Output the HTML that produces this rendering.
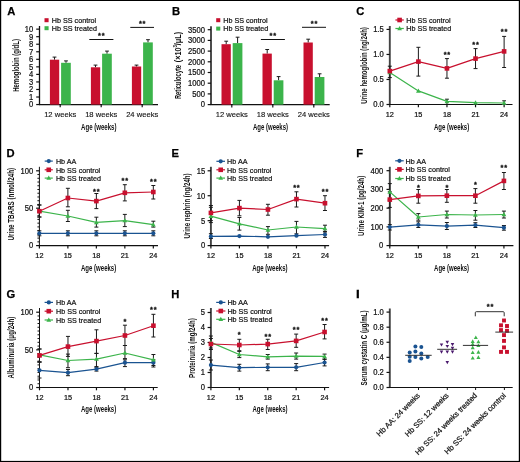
<!DOCTYPE html><html><head><meta charset="utf-8"><style>html,body{margin:0;padding:0;background:#fff;}body{width:520px;height:462px;overflow:hidden;font-family:"Liberation Sans",sans-serif;} svg{will-change:transform;}</style></head><body><svg width="520" height="462" viewBox="0 0 520 462" style="display:block" font-family="'Liberation Sans', sans-serif">
<rect x="0" y="0" width="520" height="462" fill="#fff"/>
<text x="7.20" y="15.20" font-size="11.2" font-weight="bold" fill="#000" stroke="#000" stroke-width="0.25">A</text>
<line x1="39.50" y1="26.00" x2="39.50" y2="105.05" stroke="#111" stroke-width="1.3"/>
<line x1="36.20" y1="104.55" x2="39.50" y2="104.55" stroke="#111" stroke-width="1.2"/>
<text transform="translate(33.30,107.42) scale(0.930,1)" x="0" y="0" font-size="8.2" text-anchor="end" fill="#111" stroke="#111" stroke-width="0.22">0</text>
<line x1="36.20" y1="97.01" x2="39.50" y2="97.01" stroke="#111" stroke-width="1.2"/>
<text transform="translate(33.30,99.88) scale(0.930,1)" x="0" y="0" font-size="8.2" text-anchor="end" fill="#111" stroke="#111" stroke-width="0.22">1</text>
<line x1="36.20" y1="89.47" x2="39.50" y2="89.47" stroke="#111" stroke-width="1.2"/>
<text transform="translate(33.30,92.34) scale(0.930,1)" x="0" y="0" font-size="8.2" text-anchor="end" fill="#111" stroke="#111" stroke-width="0.22">2</text>
<line x1="36.20" y1="81.93" x2="39.50" y2="81.93" stroke="#111" stroke-width="1.2"/>
<text transform="translate(33.30,84.80) scale(0.930,1)" x="0" y="0" font-size="8.2" text-anchor="end" fill="#111" stroke="#111" stroke-width="0.22">3</text>
<line x1="36.20" y1="74.39" x2="39.50" y2="74.39" stroke="#111" stroke-width="1.2"/>
<text transform="translate(33.30,77.26) scale(0.930,1)" x="0" y="0" font-size="8.2" text-anchor="end" fill="#111" stroke="#111" stroke-width="0.22">4</text>
<line x1="36.20" y1="66.85" x2="39.50" y2="66.85" stroke="#111" stroke-width="1.2"/>
<text transform="translate(33.30,69.72) scale(0.930,1)" x="0" y="0" font-size="8.2" text-anchor="end" fill="#111" stroke="#111" stroke-width="0.22">5</text>
<line x1="36.20" y1="59.31" x2="39.50" y2="59.31" stroke="#111" stroke-width="1.2"/>
<text transform="translate(33.30,62.18) scale(0.930,1)" x="0" y="0" font-size="8.2" text-anchor="end" fill="#111" stroke="#111" stroke-width="0.22">6</text>
<line x1="36.20" y1="51.77" x2="39.50" y2="51.77" stroke="#111" stroke-width="1.2"/>
<text transform="translate(33.30,54.64) scale(0.930,1)" x="0" y="0" font-size="8.2" text-anchor="end" fill="#111" stroke="#111" stroke-width="0.22">7</text>
<line x1="36.20" y1="44.23" x2="39.50" y2="44.23" stroke="#111" stroke-width="1.2"/>
<text transform="translate(33.30,47.10) scale(0.930,1)" x="0" y="0" font-size="8.2" text-anchor="end" fill="#111" stroke="#111" stroke-width="0.22">8</text>
<line x1="36.20" y1="36.69" x2="39.50" y2="36.69" stroke="#111" stroke-width="1.2"/>
<text transform="translate(33.30,39.56) scale(0.930,1)" x="0" y="0" font-size="8.2" text-anchor="end" fill="#111" stroke="#111" stroke-width="0.22">9</text>
<line x1="36.20" y1="29.15" x2="39.50" y2="29.15" stroke="#111" stroke-width="1.2"/>
<text transform="translate(33.30,32.02) scale(0.930,1)" x="0" y="0" font-size="8.2" text-anchor="end" fill="#111" stroke="#111" stroke-width="0.22">10</text>
<line x1="39.00" y1="104.55" x2="158.00" y2="104.55" stroke="#111" stroke-width="1.2"/>
<line x1="60.20" y1="104.55" x2="60.20" y2="107.35" stroke="#111" stroke-width="1.2"/>
<text x="60.20" y="117.06" font-size="7.6" text-anchor="middle" fill="#111" stroke="#111" stroke-width="0.12">12 weeks</text>
<line x1="101.20" y1="104.55" x2="101.20" y2="107.35" stroke="#111" stroke-width="1.2"/>
<text x="101.20" y="117.06" font-size="7.6" text-anchor="middle" fill="#111" stroke="#111" stroke-width="0.12">18 weeks</text>
<line x1="142.20" y1="104.55" x2="142.20" y2="107.35" stroke="#111" stroke-width="1.2"/>
<text x="142.20" y="117.06" font-size="7.6" text-anchor="middle" fill="#111" stroke="#111" stroke-width="0.12">24 weeks</text>
<line x1="54.50" y1="57.10" x2="54.50" y2="59.70" stroke="#1a1a1a" stroke-width="1.0"/>
<line x1="52.60" y1="57.10" x2="56.40" y2="57.10" stroke="#1a1a1a" stroke-width="1.0"/>
<line x1="66.00" y1="60.90" x2="66.00" y2="62.80" stroke="#1a1a1a" stroke-width="1.0"/>
<line x1="64.10" y1="60.90" x2="67.90" y2="60.90" stroke="#1a1a1a" stroke-width="1.0"/>
<rect x="49.90" y="59.70" width="9.30" height="44.85" fill="#c8102e"/>
<rect x="61.10" y="62.80" width="9.70" height="41.75" fill="#3cb44b"/>
<line x1="95.50" y1="65.10" x2="95.50" y2="67.30" stroke="#1a1a1a" stroke-width="1.0"/>
<line x1="93.60" y1="65.10" x2="97.40" y2="65.10" stroke="#1a1a1a" stroke-width="1.0"/>
<line x1="107.00" y1="51.10" x2="107.00" y2="53.70" stroke="#1a1a1a" stroke-width="1.0"/>
<line x1="105.10" y1="51.10" x2="108.90" y2="51.10" stroke="#1a1a1a" stroke-width="1.0"/>
<rect x="90.90" y="67.30" width="9.30" height="37.25" fill="#c8102e"/>
<rect x="102.10" y="53.70" width="9.70" height="50.85" fill="#3cb44b"/>
<line x1="136.50" y1="65.10" x2="136.50" y2="66.50" stroke="#1a1a1a" stroke-width="1.0"/>
<line x1="134.60" y1="65.10" x2="138.40" y2="65.10" stroke="#1a1a1a" stroke-width="1.0"/>
<line x1="148.00" y1="39.70" x2="148.00" y2="42.40" stroke="#1a1a1a" stroke-width="1.0"/>
<line x1="146.10" y1="39.70" x2="149.90" y2="39.70" stroke="#1a1a1a" stroke-width="1.0"/>
<rect x="131.90" y="66.50" width="9.30" height="38.05" fill="#c8102e"/>
<rect x="143.10" y="42.40" width="9.70" height="62.15" fill="#3cb44b"/>
<line x1="89.30" y1="39.50" x2="113.40" y2="39.50" stroke="#111" stroke-width="1.0"/>
<text x="99.55" y="38.01" font-size="7.4" font-weight="bold" text-anchor="middle" fill="#111" stroke="#111" stroke-width="0.3">*</text>
<text x="103.25" y="38.01" font-size="7.4" font-weight="bold" text-anchor="middle" fill="#111" stroke="#111" stroke-width="0.3">*</text>
<line x1="130.30" y1="27.40" x2="154.00" y2="27.40" stroke="#111" stroke-width="1.0"/>
<text x="140.35" y="26.01" font-size="7.4" font-weight="bold" text-anchor="middle" fill="#111" stroke="#111" stroke-width="0.3">*</text>
<text x="144.05" y="26.01" font-size="7.4" font-weight="bold" text-anchor="middle" fill="#111" stroke="#111" stroke-width="0.3">*</text>
<rect x="44.50" y="18.20" width="4.10" height="4.00" fill="#c8102e"/>
<text transform="translate(51.80,23.04) scale(0.910,1)" x="0" y="0" font-size="7.9" fill="#111" stroke="#111" stroke-width="0.22">Hb SS control</text>
<rect x="44.50" y="26.20" width="4.10" height="4.00" fill="#3cb44b"/>
<text transform="translate(51.80,31.04) scale(0.910,1)" x="0" y="0" font-size="7.9" fill="#111" stroke="#111" stroke-width="0.22">Hb SS treated</text>
<text transform="translate(18.80,65.45) rotate(-90) scale(0.6630,1)" x="0" y="0" font-size="9.0" text-anchor="middle" fill="#111" font-weight="bold">Hemoglobin (g/dL)</text>
<text transform="translate(98.80,129.70) scale(0.6759,1)" x="0" y="0" font-size="9.0" text-anchor="middle" fill="#111" font-weight="bold">Age (weeks)</text>
<text x="171.90" y="15.20" font-size="11.2" font-weight="bold" fill="#000" stroke="#000" stroke-width="0.25">B</text>
<line x1="211.00" y1="26.20" x2="211.00" y2="105.10" stroke="#444" stroke-width="1.9"/>
<line x1="207.70" y1="104.60" x2="211.00" y2="104.60" stroke="#111" stroke-width="1.2"/>
<text transform="translate(205.00,107.47) scale(0.930,1)" x="0" y="0" font-size="8.2" text-anchor="end" fill="#111" stroke="#111" stroke-width="0.22">0</text>
<line x1="207.70" y1="93.90" x2="211.00" y2="93.90" stroke="#111" stroke-width="1.2"/>
<text transform="translate(205.00,96.77) scale(0.930,1)" x="0" y="0" font-size="8.2" text-anchor="end" fill="#111" stroke="#111" stroke-width="0.22">500</text>
<line x1="207.70" y1="83.20" x2="211.00" y2="83.20" stroke="#111" stroke-width="1.2"/>
<text transform="translate(205.00,86.07) scale(0.930,1)" x="0" y="0" font-size="8.2" text-anchor="end" fill="#111" stroke="#111" stroke-width="0.22">1000</text>
<line x1="207.70" y1="72.50" x2="211.00" y2="72.50" stroke="#111" stroke-width="1.2"/>
<text transform="translate(205.00,75.37) scale(0.930,1)" x="0" y="0" font-size="8.2" text-anchor="end" fill="#111" stroke="#111" stroke-width="0.22">1500</text>
<line x1="207.70" y1="61.80" x2="211.00" y2="61.80" stroke="#111" stroke-width="1.2"/>
<text transform="translate(205.00,64.67) scale(0.930,1)" x="0" y="0" font-size="8.2" text-anchor="end" fill="#111" stroke="#111" stroke-width="0.22">2000</text>
<line x1="207.70" y1="51.10" x2="211.00" y2="51.10" stroke="#111" stroke-width="1.2"/>
<text transform="translate(205.00,53.97) scale(0.930,1)" x="0" y="0" font-size="8.2" text-anchor="end" fill="#111" stroke="#111" stroke-width="0.22">2500</text>
<line x1="207.70" y1="40.40" x2="211.00" y2="40.40" stroke="#111" stroke-width="1.2"/>
<text transform="translate(205.00,43.27) scale(0.930,1)" x="0" y="0" font-size="8.2" text-anchor="end" fill="#111" stroke="#111" stroke-width="0.22">3000</text>
<line x1="207.70" y1="29.70" x2="211.00" y2="29.70" stroke="#111" stroke-width="1.2"/>
<text transform="translate(205.00,32.57) scale(0.930,1)" x="0" y="0" font-size="8.2" text-anchor="end" fill="#111" stroke="#111" stroke-width="0.22">3500</text>
<line x1="210.50" y1="104.60" x2="329.70" y2="104.60" stroke="#111" stroke-width="1.2"/>
<line x1="231.80" y1="104.60" x2="231.80" y2="107.40" stroke="#111" stroke-width="1.2"/>
<text x="231.80" y="116.96" font-size="7.6" text-anchor="middle" fill="#111" stroke="#111" stroke-width="0.12">12 weeks</text>
<line x1="272.80" y1="104.60" x2="272.80" y2="107.40" stroke="#111" stroke-width="1.2"/>
<text x="272.80" y="116.96" font-size="7.6" text-anchor="middle" fill="#111" stroke="#111" stroke-width="0.12">18 weeks</text>
<line x1="313.80" y1="104.60" x2="313.80" y2="107.40" stroke="#111" stroke-width="1.2"/>
<text x="313.80" y="116.96" font-size="7.6" text-anchor="middle" fill="#111" stroke="#111" stroke-width="0.12">24 weeks</text>
<line x1="226.20" y1="41.20" x2="226.20" y2="44.20" stroke="#1a1a1a" stroke-width="1.0"/>
<line x1="224.30" y1="41.20" x2="228.10" y2="41.20" stroke="#1a1a1a" stroke-width="1.0"/>
<line x1="237.60" y1="37.20" x2="237.60" y2="43.10" stroke="#1a1a1a" stroke-width="1.0"/>
<line x1="235.70" y1="37.20" x2="239.50" y2="37.20" stroke="#1a1a1a" stroke-width="1.0"/>
<rect x="221.50" y="44.20" width="9.30" height="60.40" fill="#c8102e"/>
<rect x="232.70" y="43.10" width="9.70" height="61.50" fill="#3cb44b"/>
<line x1="267.20" y1="49.50" x2="267.20" y2="53.60" stroke="#1a1a1a" stroke-width="1.0"/>
<line x1="265.30" y1="49.50" x2="269.10" y2="49.50" stroke="#1a1a1a" stroke-width="1.0"/>
<line x1="278.60" y1="76.60" x2="278.60" y2="80.30" stroke="#1a1a1a" stroke-width="1.0"/>
<line x1="276.70" y1="76.60" x2="280.50" y2="76.60" stroke="#1a1a1a" stroke-width="1.0"/>
<rect x="262.50" y="53.60" width="9.30" height="51.00" fill="#c8102e"/>
<rect x="273.70" y="80.30" width="9.70" height="24.30" fill="#3cb44b"/>
<line x1="308.20" y1="39.20" x2="308.20" y2="42.50" stroke="#1a1a1a" stroke-width="1.0"/>
<line x1="306.30" y1="39.20" x2="310.10" y2="39.20" stroke="#1a1a1a" stroke-width="1.0"/>
<line x1="319.60" y1="73.80" x2="319.60" y2="77.00" stroke="#1a1a1a" stroke-width="1.0"/>
<line x1="317.70" y1="73.80" x2="321.50" y2="73.80" stroke="#1a1a1a" stroke-width="1.0"/>
<rect x="303.50" y="42.50" width="9.30" height="62.10" fill="#c8102e"/>
<rect x="314.70" y="77.00" width="9.70" height="27.60" fill="#3cb44b"/>
<line x1="260.90" y1="39.50" x2="284.90" y2="39.50" stroke="#111" stroke-width="1.0"/>
<text x="270.95" y="37.81" font-size="7.4" font-weight="bold" text-anchor="middle" fill="#111" stroke="#111" stroke-width="0.3">*</text>
<text x="274.65" y="37.81" font-size="7.4" font-weight="bold" text-anchor="middle" fill="#111" stroke="#111" stroke-width="0.3">*</text>
<line x1="302.00" y1="27.30" x2="326.00" y2="27.30" stroke="#111" stroke-width="1.0"/>
<text x="312.15" y="25.91" font-size="7.4" font-weight="bold" text-anchor="middle" fill="#111" stroke="#111" stroke-width="0.3">*</text>
<text x="315.85" y="25.91" font-size="7.4" font-weight="bold" text-anchor="middle" fill="#111" stroke="#111" stroke-width="0.3">*</text>
<rect x="216.20" y="18.20" width="4.10" height="4.00" fill="#c8102e"/>
<text transform="translate(223.20,23.04) scale(0.910,1)" x="0" y="0" font-size="7.9" fill="#111" stroke="#111" stroke-width="0.22">Hb SS control</text>
<rect x="216.20" y="26.60" width="4.10" height="4.00" fill="#3cb44b"/>
<text transform="translate(223.20,31.44) scale(0.910,1)" x="0" y="0" font-size="7.9" fill="#111" stroke="#111" stroke-width="0.22">Hb SS treated</text>
<text transform="translate(181.10,82.05) rotate(-90) scale(0.6372,1)" x="0" y="0" font-size="9.0" text-anchor="middle" fill="#111" font-weight="bold">Reticulocyte</text>
<text transform="translate(181.10,47.05) rotate(-90) scale(0.8023,1)" x="0" y="0" font-size="9.0" text-anchor="middle" fill="#111" font-weight="bold">(×10<tspan font-size="5.40" dy="-4.6">3</tspan><tspan dy="4.6">/μL)</tspan></text>
<text transform="translate(270.50,129.70) scale(0.6702,1)" x="0" y="0" font-size="9.0" text-anchor="middle" fill="#111" font-weight="bold">Age (weeks)</text>
<text x="356.20" y="15.20" font-size="11.2" font-weight="bold" fill="#000" stroke="#000" stroke-width="0.25">C</text>
<line x1="389.80" y1="26.00" x2="389.80" y2="105.00" stroke="#444" stroke-width="1.9"/>
<line x1="386.50" y1="104.50" x2="389.80" y2="104.50" stroke="#111" stroke-width="1.2"/>
<text transform="translate(383.80,107.37) scale(0.930,1)" x="0" y="0" font-size="8.2" text-anchor="end" fill="#111" stroke="#111" stroke-width="0.22">0.0</text>
<line x1="386.50" y1="79.47" x2="389.80" y2="79.47" stroke="#111" stroke-width="1.2"/>
<text transform="translate(383.80,82.34) scale(0.930,1)" x="0" y="0" font-size="8.2" text-anchor="end" fill="#111" stroke="#111" stroke-width="0.22">0.5</text>
<line x1="386.50" y1="54.45" x2="389.80" y2="54.45" stroke="#111" stroke-width="1.2"/>
<text transform="translate(383.80,57.32) scale(0.930,1)" x="0" y="0" font-size="8.2" text-anchor="end" fill="#111" stroke="#111" stroke-width="0.22">1.0</text>
<line x1="386.50" y1="29.43" x2="389.80" y2="29.43" stroke="#111" stroke-width="1.2"/>
<text transform="translate(383.80,32.30) scale(0.930,1)" x="0" y="0" font-size="8.2" text-anchor="end" fill="#111" stroke="#111" stroke-width="0.22">1.5</text>
<line x1="389.30" y1="104.50" x2="512.50" y2="104.50" stroke="#111" stroke-width="1.2"/>
<line x1="389.80" y1="104.50" x2="389.80" y2="107.30" stroke="#111" stroke-width="1.2"/>
<text x="389.80" y="116.85" font-size="7.3" text-anchor="middle" fill="#111" stroke="#111" stroke-width="0.22">12</text>
<line x1="418.38" y1="104.50" x2="418.38" y2="107.30" stroke="#111" stroke-width="1.2"/>
<text x="418.38" y="116.85" font-size="7.3" text-anchor="middle" fill="#111" stroke="#111" stroke-width="0.22">15</text>
<line x1="446.96" y1="104.50" x2="446.96" y2="107.30" stroke="#111" stroke-width="1.2"/>
<text x="446.96" y="116.85" font-size="7.3" text-anchor="middle" fill="#111" stroke="#111" stroke-width="0.22">18</text>
<line x1="475.54" y1="104.50" x2="475.54" y2="107.30" stroke="#111" stroke-width="1.2"/>
<text x="475.54" y="116.85" font-size="7.3" text-anchor="middle" fill="#111" stroke="#111" stroke-width="0.22">21</text>
<line x1="504.12" y1="104.50" x2="504.12" y2="107.30" stroke="#111" stroke-width="1.2"/>
<text x="504.12" y="116.85" font-size="7.3" text-anchor="middle" fill="#111" stroke="#111" stroke-width="0.22">24</text>
<line x1="389.80" y1="66.20" x2="389.80" y2="77.60" stroke="#1a1a1a" stroke-width="1.0"/>
<line x1="387.80" y1="66.20" x2="391.80" y2="66.20" stroke="#1a1a1a" stroke-width="1.0"/>
<line x1="387.80" y1="77.60" x2="391.80" y2="77.60" stroke="#1a1a1a" stroke-width="1.0"/>
<line x1="418.38" y1="47.30" x2="418.38" y2="76.10" stroke="#1a1a1a" stroke-width="1.0"/>
<line x1="416.38" y1="47.30" x2="420.38" y2="47.30" stroke="#1a1a1a" stroke-width="1.0"/>
<line x1="416.38" y1="76.10" x2="420.38" y2="76.10" stroke="#1a1a1a" stroke-width="1.0"/>
<line x1="446.96" y1="58.60" x2="446.96" y2="78.20" stroke="#1a1a1a" stroke-width="1.0"/>
<line x1="444.96" y1="58.60" x2="448.96" y2="58.60" stroke="#1a1a1a" stroke-width="1.0"/>
<line x1="444.96" y1="78.20" x2="448.96" y2="78.20" stroke="#1a1a1a" stroke-width="1.0"/>
<line x1="475.54" y1="48.60" x2="475.54" y2="68.60" stroke="#1a1a1a" stroke-width="1.0"/>
<line x1="473.54" y1="48.60" x2="477.54" y2="48.60" stroke="#1a1a1a" stroke-width="1.0"/>
<line x1="473.54" y1="68.60" x2="477.54" y2="68.60" stroke="#1a1a1a" stroke-width="1.0"/>
<line x1="504.12" y1="36.40" x2="504.12" y2="67.50" stroke="#1a1a1a" stroke-width="1.0"/>
<line x1="502.12" y1="36.40" x2="506.12" y2="36.40" stroke="#1a1a1a" stroke-width="1.0"/>
<line x1="502.12" y1="67.50" x2="506.12" y2="67.50" stroke="#1a1a1a" stroke-width="1.0"/>
<line x1="446.96" y1="99.20" x2="446.96" y2="104.50" stroke="#1a1a1a" stroke-width="1.0"/>
<line x1="445.06" y1="99.20" x2="448.86" y2="99.20" stroke="#1a1a1a" stroke-width="1.0"/>
<line x1="504.12" y1="100.80" x2="504.12" y2="104.50" stroke="#1a1a1a" stroke-width="1.0"/>
<line x1="502.22" y1="100.80" x2="506.02" y2="100.80" stroke="#1a1a1a" stroke-width="1.0"/>
<polyline points="389.80,72.40 418.38,90.90 446.96,101.40 475.54,102.70 504.12,103.00" fill="none" stroke="#3cb44b" stroke-width="1.2" stroke-linejoin="round"/>
<path d="M389.80,69.90 L392.18,74.15 L387.43,74.15 Z" fill="#3cb44b"/>
<path d="M418.38,88.40 L420.75,92.65 L416.00,92.65 Z" fill="#3cb44b"/>
<path d="M446.96,98.90 L449.34,103.15 L444.59,103.15 Z" fill="#3cb44b"/>
<path d="M475.54,100.20 L477.92,104.45 L473.17,104.45 Z" fill="#3cb44b"/>
<path d="M504.12,100.50 L506.50,104.75 L501.75,104.75 Z" fill="#3cb44b"/>
<polyline points="389.80,71.10 418.38,61.60 446.96,68.40 475.54,58.60 504.12,51.40" fill="none" stroke="#c8102e" stroke-width="1.2" stroke-linejoin="round"/>
<rect x="387.50" y="68.80" width="4.60" height="4.60" fill="#c8102e"/>
<rect x="416.08" y="59.30" width="4.60" height="4.60" fill="#c8102e"/>
<rect x="444.66" y="66.10" width="4.60" height="4.60" fill="#c8102e"/>
<rect x="473.24" y="56.30" width="4.60" height="4.60" fill="#c8102e"/>
<rect x="501.82" y="49.10" width="4.60" height="4.60" fill="#c8102e"/>
<text x="445.11" y="56.51" font-size="7.4" font-weight="bold" text-anchor="middle" fill="#111" stroke="#111" stroke-width="0.3">*</text>
<text x="448.81" y="56.51" font-size="7.4" font-weight="bold" text-anchor="middle" fill="#111" stroke="#111" stroke-width="0.3">*</text>
<text x="473.69" y="47.01" font-size="7.4" font-weight="bold" text-anchor="middle" fill="#111" stroke="#111" stroke-width="0.3">*</text>
<text x="477.39" y="47.01" font-size="7.4" font-weight="bold" text-anchor="middle" fill="#111" stroke="#111" stroke-width="0.3">*</text>
<text x="502.27" y="34.01" font-size="7.4" font-weight="bold" text-anchor="middle" fill="#111" stroke="#111" stroke-width="0.3">*</text>
<text x="505.97" y="34.01" font-size="7.4" font-weight="bold" text-anchor="middle" fill="#111" stroke="#111" stroke-width="0.3">*</text>
<line x1="395.40" y1="20.00" x2="403.80" y2="20.00" stroke="#c8102e" stroke-width="1.2"/>
<rect x="397.30" y="17.70" width="4.60" height="4.60" fill="#c8102e"/>
<text transform="translate(406.20,22.84) scale(0.910,1)" x="0" y="0" font-size="7.9" fill="#111" stroke="#111" stroke-width="0.22">Hb SS control</text>
<line x1="395.40" y1="28.50" x2="403.80" y2="28.50" stroke="#3cb44b" stroke-width="1.2"/>
<path d="M399.60,26.00 L401.98,30.25 L397.23,30.25 Z" fill="#3cb44b"/>
<text transform="translate(406.20,31.34) scale(0.910,1)" x="0" y="0" font-size="7.9" fill="#111" stroke="#111" stroke-width="0.22">Hb SS treated</text>
<text transform="translate(367.30,65.45) rotate(-90) scale(0.6728,1)" x="0" y="0" font-size="9.0" text-anchor="middle" fill="#111" font-weight="bold">Urine hemoglobin (ng/24h)</text>
<text transform="translate(451.60,129.70) scale(0.6740,1)" x="0" y="0" font-size="9.0" text-anchor="middle" fill="#111" font-weight="bold">Age (weeks)</text>
<text x="6.50" y="156.90" font-size="11.2" font-weight="bold" fill="#000" stroke="#000" stroke-width="0.25">D</text>
<line x1="39.40" y1="166.80" x2="39.40" y2="246.10" stroke="#111" stroke-width="1.0"/>
<line x1="36.10" y1="245.60" x2="39.40" y2="245.60" stroke="#111" stroke-width="1.2"/>
<text transform="translate(33.30,248.47) scale(0.930,1)" x="0" y="0" font-size="8.2" text-anchor="end" fill="#111" stroke="#111" stroke-width="0.22">0</text>
<line x1="36.10" y1="208.20" x2="39.40" y2="208.20" stroke="#111" stroke-width="1.2"/>
<text transform="translate(33.30,211.07) scale(0.930,1)" x="0" y="0" font-size="8.2" text-anchor="end" fill="#111" stroke="#111" stroke-width="0.22">50</text>
<line x1="36.10" y1="170.80" x2="39.40" y2="170.80" stroke="#111" stroke-width="1.2"/>
<text transform="translate(33.30,173.67) scale(0.930,1)" x="0" y="0" font-size="8.2" text-anchor="end" fill="#111" stroke="#111" stroke-width="0.22">100</text>
<line x1="37.40" y1="241.86" x2="39.40" y2="241.86" stroke="#111" stroke-width="1.0"/>
<line x1="37.40" y1="238.12" x2="39.40" y2="238.12" stroke="#111" stroke-width="1.0"/>
<line x1="37.40" y1="234.38" x2="39.40" y2="234.38" stroke="#111" stroke-width="1.0"/>
<line x1="37.40" y1="230.64" x2="39.40" y2="230.64" stroke="#111" stroke-width="1.0"/>
<line x1="37.40" y1="226.90" x2="39.40" y2="226.90" stroke="#111" stroke-width="1.0"/>
<line x1="37.40" y1="223.16" x2="39.40" y2="223.16" stroke="#111" stroke-width="1.0"/>
<line x1="37.40" y1="219.42" x2="39.40" y2="219.42" stroke="#111" stroke-width="1.0"/>
<line x1="37.40" y1="215.68" x2="39.40" y2="215.68" stroke="#111" stroke-width="1.0"/>
<line x1="37.40" y1="211.94" x2="39.40" y2="211.94" stroke="#111" stroke-width="1.0"/>
<line x1="37.40" y1="204.46" x2="39.40" y2="204.46" stroke="#111" stroke-width="1.0"/>
<line x1="37.40" y1="200.72" x2="39.40" y2="200.72" stroke="#111" stroke-width="1.0"/>
<line x1="37.40" y1="196.98" x2="39.40" y2="196.98" stroke="#111" stroke-width="1.0"/>
<line x1="37.40" y1="193.24" x2="39.40" y2="193.24" stroke="#111" stroke-width="1.0"/>
<line x1="37.40" y1="189.50" x2="39.40" y2="189.50" stroke="#111" stroke-width="1.0"/>
<line x1="37.40" y1="185.76" x2="39.40" y2="185.76" stroke="#111" stroke-width="1.0"/>
<line x1="37.40" y1="182.02" x2="39.40" y2="182.02" stroke="#111" stroke-width="1.0"/>
<line x1="37.40" y1="178.28" x2="39.40" y2="178.28" stroke="#111" stroke-width="1.0"/>
<line x1="37.40" y1="174.54" x2="39.40" y2="174.54" stroke="#111" stroke-width="1.0"/>
<line x1="38.90" y1="245.60" x2="158.00" y2="245.60" stroke="#111" stroke-width="1.2"/>
<line x1="39.40" y1="245.60" x2="39.40" y2="248.40" stroke="#111" stroke-width="1.2"/>
<text x="39.40" y="258.25" font-size="7.3" text-anchor="middle" fill="#111" stroke="#111" stroke-width="0.22">12</text>
<line x1="67.88" y1="245.60" x2="67.88" y2="248.40" stroke="#111" stroke-width="1.2"/>
<text x="67.88" y="258.25" font-size="7.3" text-anchor="middle" fill="#111" stroke="#111" stroke-width="0.22">15</text>
<line x1="96.36" y1="245.60" x2="96.36" y2="248.40" stroke="#111" stroke-width="1.2"/>
<text x="96.36" y="258.25" font-size="7.3" text-anchor="middle" fill="#111" stroke="#111" stroke-width="0.22">18</text>
<line x1="124.84" y1="245.60" x2="124.84" y2="248.40" stroke="#111" stroke-width="1.2"/>
<text x="124.84" y="258.25" font-size="7.3" text-anchor="middle" fill="#111" stroke="#111" stroke-width="0.22">21</text>
<line x1="153.32" y1="245.60" x2="153.32" y2="248.40" stroke="#111" stroke-width="1.2"/>
<text x="153.32" y="258.25" font-size="7.3" text-anchor="middle" fill="#111" stroke="#111" stroke-width="0.22">24</text>
<line x1="39.40" y1="230.80" x2="39.40" y2="235.80" stroke="#1a1a1a" stroke-width="1.0"/>
<line x1="37.40" y1="230.80" x2="41.40" y2="230.80" stroke="#1a1a1a" stroke-width="1.0"/>
<line x1="37.40" y1="235.80" x2="41.40" y2="235.80" stroke="#1a1a1a" stroke-width="1.0"/>
<line x1="67.88" y1="230.80" x2="67.88" y2="235.80" stroke="#1a1a1a" stroke-width="1.0"/>
<line x1="65.88" y1="230.80" x2="69.88" y2="230.80" stroke="#1a1a1a" stroke-width="1.0"/>
<line x1="65.88" y1="235.80" x2="69.88" y2="235.80" stroke="#1a1a1a" stroke-width="1.0"/>
<line x1="96.36" y1="230.80" x2="96.36" y2="235.80" stroke="#1a1a1a" stroke-width="1.0"/>
<line x1="94.36" y1="230.80" x2="98.36" y2="230.80" stroke="#1a1a1a" stroke-width="1.0"/>
<line x1="94.36" y1="235.80" x2="98.36" y2="235.80" stroke="#1a1a1a" stroke-width="1.0"/>
<line x1="124.84" y1="230.80" x2="124.84" y2="235.80" stroke="#1a1a1a" stroke-width="1.0"/>
<line x1="122.84" y1="230.80" x2="126.84" y2="230.80" stroke="#1a1a1a" stroke-width="1.0"/>
<line x1="122.84" y1="235.80" x2="126.84" y2="235.80" stroke="#1a1a1a" stroke-width="1.0"/>
<line x1="153.32" y1="230.80" x2="153.32" y2="235.80" stroke="#1a1a1a" stroke-width="1.0"/>
<line x1="151.32" y1="230.80" x2="155.32" y2="230.80" stroke="#1a1a1a" stroke-width="1.0"/>
<line x1="151.32" y1="235.80" x2="155.32" y2="235.80" stroke="#1a1a1a" stroke-width="1.0"/>
<line x1="39.40" y1="205.00" x2="39.40" y2="217.00" stroke="#1a1a1a" stroke-width="1.0"/>
<line x1="37.40" y1="205.00" x2="41.40" y2="205.00" stroke="#1a1a1a" stroke-width="1.0"/>
<line x1="37.40" y1="217.00" x2="41.40" y2="217.00" stroke="#1a1a1a" stroke-width="1.0"/>
<line x1="67.88" y1="210.30" x2="67.88" y2="221.50" stroke="#1a1a1a" stroke-width="1.0"/>
<line x1="65.88" y1="210.30" x2="69.88" y2="210.30" stroke="#1a1a1a" stroke-width="1.0"/>
<line x1="65.88" y1="221.50" x2="69.88" y2="221.50" stroke="#1a1a1a" stroke-width="1.0"/>
<line x1="96.36" y1="217.20" x2="96.36" y2="227.10" stroke="#1a1a1a" stroke-width="1.0"/>
<line x1="94.36" y1="217.20" x2="98.36" y2="217.20" stroke="#1a1a1a" stroke-width="1.0"/>
<line x1="94.36" y1="227.10" x2="98.36" y2="227.10" stroke="#1a1a1a" stroke-width="1.0"/>
<line x1="124.84" y1="214.40" x2="124.84" y2="226.60" stroke="#1a1a1a" stroke-width="1.0"/>
<line x1="122.84" y1="214.40" x2="126.84" y2="214.40" stroke="#1a1a1a" stroke-width="1.0"/>
<line x1="122.84" y1="226.60" x2="126.84" y2="226.60" stroke="#1a1a1a" stroke-width="1.0"/>
<line x1="153.32" y1="221.20" x2="153.32" y2="227.10" stroke="#1a1a1a" stroke-width="1.0"/>
<line x1="151.32" y1="221.20" x2="155.32" y2="221.20" stroke="#1a1a1a" stroke-width="1.0"/>
<line x1="151.32" y1="227.10" x2="155.32" y2="227.10" stroke="#1a1a1a" stroke-width="1.0"/>
<line x1="39.40" y1="205.00" x2="39.40" y2="217.00" stroke="#1a1a1a" stroke-width="1.0"/>
<line x1="37.40" y1="205.00" x2="41.40" y2="205.00" stroke="#1a1a1a" stroke-width="1.0"/>
<line x1="37.40" y1="217.00" x2="41.40" y2="217.00" stroke="#1a1a1a" stroke-width="1.0"/>
<line x1="67.88" y1="188.30" x2="67.88" y2="206.80" stroke="#1a1a1a" stroke-width="1.0"/>
<line x1="65.88" y1="188.30" x2="69.88" y2="188.30" stroke="#1a1a1a" stroke-width="1.0"/>
<line x1="65.88" y1="206.80" x2="69.88" y2="206.80" stroke="#1a1a1a" stroke-width="1.0"/>
<line x1="96.36" y1="193.50" x2="96.36" y2="208.60" stroke="#1a1a1a" stroke-width="1.0"/>
<line x1="94.36" y1="193.50" x2="98.36" y2="193.50" stroke="#1a1a1a" stroke-width="1.0"/>
<line x1="94.36" y1="208.60" x2="98.36" y2="208.60" stroke="#1a1a1a" stroke-width="1.0"/>
<line x1="124.84" y1="184.70" x2="124.84" y2="200.90" stroke="#1a1a1a" stroke-width="1.0"/>
<line x1="122.84" y1="184.70" x2="126.84" y2="184.70" stroke="#1a1a1a" stroke-width="1.0"/>
<line x1="122.84" y1="200.90" x2="126.84" y2="200.90" stroke="#1a1a1a" stroke-width="1.0"/>
<line x1="153.32" y1="185.50" x2="153.32" y2="199.00" stroke="#1a1a1a" stroke-width="1.0"/>
<line x1="151.32" y1="185.50" x2="155.32" y2="185.50" stroke="#1a1a1a" stroke-width="1.0"/>
<line x1="151.32" y1="199.00" x2="155.32" y2="199.00" stroke="#1a1a1a" stroke-width="1.0"/>
<polyline points="39.40,233.30 67.88,233.30 96.36,233.30 124.84,233.30 153.32,233.30" fill="none" stroke="#1a5391" stroke-width="1.2" stroke-linejoin="round"/>
<circle cx="39.40" cy="233.30" r="2.10" fill="#1a5391"/>
<circle cx="67.88" cy="233.30" r="2.10" fill="#1a5391"/>
<circle cx="96.36" cy="233.30" r="2.10" fill="#1a5391"/>
<circle cx="124.84" cy="233.30" r="2.10" fill="#1a5391"/>
<circle cx="153.32" cy="233.30" r="2.10" fill="#1a5391"/>
<polyline points="39.40,211.20 67.88,216.00 96.36,222.40 124.84,220.60 153.32,224.70" fill="none" stroke="#3cb44b" stroke-width="1.2" stroke-linejoin="round"/>
<path d="M39.40,208.70 L41.77,212.95 L37.02,212.95 Z" fill="#3cb44b"/>
<path d="M67.88,213.50 L70.25,217.75 L65.50,217.75 Z" fill="#3cb44b"/>
<path d="M96.36,219.90 L98.73,224.15 L93.98,224.15 Z" fill="#3cb44b"/>
<path d="M124.84,218.10 L127.22,222.35 L122.47,222.35 Z" fill="#3cb44b"/>
<path d="M153.32,222.20 L155.69,226.45 L150.94,226.45 Z" fill="#3cb44b"/>
<polyline points="39.40,211.20 67.88,198.00 96.36,201.10 124.84,192.80 153.32,192.00" fill="none" stroke="#c8102e" stroke-width="1.2" stroke-linejoin="round"/>
<rect x="37.10" y="208.90" width="4.60" height="4.60" fill="#c8102e"/>
<rect x="65.58" y="195.70" width="4.60" height="4.60" fill="#c8102e"/>
<rect x="94.06" y="198.80" width="4.60" height="4.60" fill="#c8102e"/>
<rect x="122.54" y="190.50" width="4.60" height="4.60" fill="#c8102e"/>
<rect x="151.02" y="189.70" width="4.60" height="4.60" fill="#c8102e"/>
<text x="94.51" y="193.81" font-size="7.4" font-weight="bold" text-anchor="middle" fill="#111" stroke="#111" stroke-width="0.3">*</text>
<text x="98.21" y="193.81" font-size="7.4" font-weight="bold" text-anchor="middle" fill="#111" stroke="#111" stroke-width="0.3">*</text>
<text x="122.99" y="183.11" font-size="7.4" font-weight="bold" text-anchor="middle" fill="#111" stroke="#111" stroke-width="0.3">*</text>
<text x="126.69" y="183.11" font-size="7.4" font-weight="bold" text-anchor="middle" fill="#111" stroke="#111" stroke-width="0.3">*</text>
<text x="151.47" y="183.71" font-size="7.4" font-weight="bold" text-anchor="middle" fill="#111" stroke="#111" stroke-width="0.3">*</text>
<text x="155.17" y="183.71" font-size="7.4" font-weight="bold" text-anchor="middle" fill="#111" stroke="#111" stroke-width="0.3">*</text>
<line x1="44.70" y1="161.10" x2="52.80" y2="161.10" stroke="#1a5391" stroke-width="1.2"/>
<circle cx="48.75" cy="161.10" r="2.10" fill="#1a5391"/>
<text transform="translate(55.90,163.94) scale(0.910,1)" x="0" y="0" font-size="7.9" fill="#111" stroke="#111" stroke-width="0.22">Hb AA</text>
<line x1="44.70" y1="169.80" x2="52.80" y2="169.80" stroke="#c8102e" stroke-width="1.2"/>
<rect x="46.45" y="167.50" width="4.60" height="4.60" fill="#c8102e"/>
<text transform="translate(55.90,172.64) scale(0.910,1)" x="0" y="0" font-size="7.9" fill="#111" stroke="#111" stroke-width="0.22">Hb SS control</text>
<line x1="44.70" y1="178.10" x2="52.80" y2="178.10" stroke="#3cb44b" stroke-width="1.2"/>
<path d="M48.75,175.60 L51.12,179.85 L46.38,179.85 Z" fill="#3cb44b"/>
<text transform="translate(55.90,180.94) scale(0.910,1)" x="0" y="0" font-size="7.9" fill="#111" stroke="#111" stroke-width="0.22">Hb SS treated</text>
<text transform="translate(13.50,204.20) rotate(-90) scale(0.6956,1)" x="0" y="0" font-size="9.0" text-anchor="middle" fill="#111" font-weight="bold">Urine TBARS (nmol/24h)</text>
<text transform="translate(98.60,271.00) scale(0.6740,1)" x="0" y="0" font-size="9.0" text-anchor="middle" fill="#111" font-weight="bold">Age (weeks)</text>
<text x="171.60" y="156.90" font-size="11.2" font-weight="bold" fill="#000" stroke="#000" stroke-width="0.25">E</text>
<line x1="210.90" y1="166.80" x2="210.90" y2="246.10" stroke="#444" stroke-width="1.9"/>
<line x1="207.60" y1="245.60" x2="210.90" y2="245.60" stroke="#111" stroke-width="1.2"/>
<text transform="translate(205.30,248.47) scale(0.930,1)" x="0" y="0" font-size="8.2" text-anchor="end" fill="#111" stroke="#111" stroke-width="0.22">0</text>
<line x1="207.60" y1="220.66" x2="210.90" y2="220.66" stroke="#111" stroke-width="1.2"/>
<text transform="translate(205.30,223.53) scale(0.930,1)" x="0" y="0" font-size="8.2" text-anchor="end" fill="#111" stroke="#111" stroke-width="0.22">5</text>
<line x1="207.60" y1="195.73" x2="210.90" y2="195.73" stroke="#111" stroke-width="1.2"/>
<text transform="translate(205.30,198.60) scale(0.930,1)" x="0" y="0" font-size="8.2" text-anchor="end" fill="#111" stroke="#111" stroke-width="0.22">10</text>
<line x1="207.60" y1="170.79" x2="210.90" y2="170.79" stroke="#111" stroke-width="1.2"/>
<text transform="translate(205.30,173.66) scale(0.930,1)" x="0" y="0" font-size="8.2" text-anchor="end" fill="#111" stroke="#111" stroke-width="0.22">15</text>
<line x1="210.40" y1="245.60" x2="329.10" y2="245.60" stroke="#111" stroke-width="1.2"/>
<line x1="210.90" y1="245.60" x2="210.90" y2="248.40" stroke="#111" stroke-width="1.2"/>
<text x="210.90" y="258.25" font-size="7.3" text-anchor="middle" fill="#111" stroke="#111" stroke-width="0.22">12</text>
<line x1="239.42" y1="245.60" x2="239.42" y2="248.40" stroke="#111" stroke-width="1.2"/>
<text x="239.42" y="258.25" font-size="7.3" text-anchor="middle" fill="#111" stroke="#111" stroke-width="0.22">15</text>
<line x1="267.94" y1="245.60" x2="267.94" y2="248.40" stroke="#111" stroke-width="1.2"/>
<text x="267.94" y="258.25" font-size="7.3" text-anchor="middle" fill="#111" stroke="#111" stroke-width="0.22">18</text>
<line x1="296.46" y1="245.60" x2="296.46" y2="248.40" stroke="#111" stroke-width="1.2"/>
<text x="296.46" y="258.25" font-size="7.3" text-anchor="middle" fill="#111" stroke="#111" stroke-width="0.22">21</text>
<line x1="324.98" y1="245.60" x2="324.98" y2="248.40" stroke="#111" stroke-width="1.2"/>
<text x="324.98" y="258.25" font-size="7.3" text-anchor="middle" fill="#111" stroke="#111" stroke-width="0.22">24</text>
<line x1="210.90" y1="233.70" x2="210.90" y2="238.50" stroke="#1a1a1a" stroke-width="1.0"/>
<line x1="208.90" y1="233.70" x2="212.90" y2="233.70" stroke="#1a1a1a" stroke-width="1.0"/>
<line x1="208.90" y1="238.50" x2="212.90" y2="238.50" stroke="#1a1a1a" stroke-width="1.0"/>
<line x1="324.98" y1="231.40" x2="324.98" y2="237.40" stroke="#1a1a1a" stroke-width="1.0"/>
<line x1="322.98" y1="231.40" x2="326.98" y2="231.40" stroke="#1a1a1a" stroke-width="1.0"/>
<line x1="322.98" y1="237.40" x2="326.98" y2="237.40" stroke="#1a1a1a" stroke-width="1.0"/>
<line x1="210.90" y1="207.30" x2="210.90" y2="222.60" stroke="#1a1a1a" stroke-width="1.0"/>
<line x1="208.90" y1="207.30" x2="212.90" y2="207.30" stroke="#1a1a1a" stroke-width="1.0"/>
<line x1="208.90" y1="222.60" x2="212.90" y2="222.60" stroke="#1a1a1a" stroke-width="1.0"/>
<line x1="239.42" y1="217.50" x2="239.42" y2="230.10" stroke="#1a1a1a" stroke-width="1.0"/>
<line x1="237.42" y1="217.50" x2="241.42" y2="217.50" stroke="#1a1a1a" stroke-width="1.0"/>
<line x1="237.42" y1="230.10" x2="241.42" y2="230.10" stroke="#1a1a1a" stroke-width="1.0"/>
<line x1="267.94" y1="226.60" x2="267.94" y2="234.30" stroke="#1a1a1a" stroke-width="1.0"/>
<line x1="265.94" y1="226.60" x2="269.94" y2="226.60" stroke="#1a1a1a" stroke-width="1.0"/>
<line x1="265.94" y1="234.30" x2="269.94" y2="234.30" stroke="#1a1a1a" stroke-width="1.0"/>
<line x1="296.46" y1="221.40" x2="296.46" y2="233.80" stroke="#1a1a1a" stroke-width="1.0"/>
<line x1="294.46" y1="221.40" x2="298.46" y2="221.40" stroke="#1a1a1a" stroke-width="1.0"/>
<line x1="294.46" y1="233.80" x2="298.46" y2="233.80" stroke="#1a1a1a" stroke-width="1.0"/>
<line x1="324.98" y1="225.20" x2="324.98" y2="232.00" stroke="#1a1a1a" stroke-width="1.0"/>
<line x1="322.98" y1="225.20" x2="326.98" y2="225.20" stroke="#1a1a1a" stroke-width="1.0"/>
<line x1="322.98" y1="232.00" x2="326.98" y2="232.00" stroke="#1a1a1a" stroke-width="1.0"/>
<line x1="210.90" y1="205.50" x2="210.90" y2="220.60" stroke="#1a1a1a" stroke-width="1.0"/>
<line x1="208.90" y1="205.50" x2="212.90" y2="205.50" stroke="#1a1a1a" stroke-width="1.0"/>
<line x1="208.90" y1="220.60" x2="212.90" y2="220.60" stroke="#1a1a1a" stroke-width="1.0"/>
<line x1="239.42" y1="200.40" x2="239.42" y2="215.80" stroke="#1a1a1a" stroke-width="1.0"/>
<line x1="237.42" y1="200.40" x2="241.42" y2="200.40" stroke="#1a1a1a" stroke-width="1.0"/>
<line x1="237.42" y1="215.80" x2="241.42" y2="215.80" stroke="#1a1a1a" stroke-width="1.0"/>
<line x1="267.94" y1="204.30" x2="267.94" y2="215.20" stroke="#1a1a1a" stroke-width="1.0"/>
<line x1="265.94" y1="204.30" x2="269.94" y2="204.30" stroke="#1a1a1a" stroke-width="1.0"/>
<line x1="265.94" y1="215.20" x2="269.94" y2="215.20" stroke="#1a1a1a" stroke-width="1.0"/>
<line x1="296.46" y1="191.80" x2="296.46" y2="207.00" stroke="#1a1a1a" stroke-width="1.0"/>
<line x1="294.46" y1="191.80" x2="298.46" y2="191.80" stroke="#1a1a1a" stroke-width="1.0"/>
<line x1="294.46" y1="207.00" x2="298.46" y2="207.00" stroke="#1a1a1a" stroke-width="1.0"/>
<line x1="324.98" y1="195.70" x2="324.98" y2="210.50" stroke="#1a1a1a" stroke-width="1.0"/>
<line x1="322.98" y1="195.70" x2="326.98" y2="195.70" stroke="#1a1a1a" stroke-width="1.0"/>
<line x1="322.98" y1="210.50" x2="326.98" y2="210.50" stroke="#1a1a1a" stroke-width="1.0"/>
<polyline points="210.90,236.40 239.42,236.10 267.94,236.80 296.46,235.70 324.98,234.50" fill="none" stroke="#1a5391" stroke-width="1.2" stroke-linejoin="round"/>
<circle cx="210.90" cy="236.40" r="2.10" fill="#1a5391"/>
<circle cx="239.42" cy="236.10" r="2.10" fill="#1a5391"/>
<circle cx="267.94" cy="236.80" r="2.10" fill="#1a5391"/>
<circle cx="296.46" cy="235.70" r="2.10" fill="#1a5391"/>
<circle cx="324.98" cy="234.50" r="2.10" fill="#1a5391"/>
<polyline points="210.90,216.20 239.42,223.80 267.94,230.00 296.46,227.00 324.98,228.60" fill="none" stroke="#3cb44b" stroke-width="1.2" stroke-linejoin="round"/>
<path d="M210.90,213.70 L213.28,217.95 L208.53,217.95 Z" fill="#3cb44b"/>
<path d="M239.42,221.30 L241.80,225.55 L237.05,225.55 Z" fill="#3cb44b"/>
<path d="M267.94,227.50 L270.31,231.75 L265.56,231.75 Z" fill="#3cb44b"/>
<path d="M296.46,224.50 L298.84,228.75 L294.09,228.75 Z" fill="#3cb44b"/>
<path d="M324.98,226.10 L327.36,230.35 L322.61,230.35 Z" fill="#3cb44b"/>
<polyline points="210.90,212.90 239.42,208.10 267.94,209.50 296.46,199.10 324.98,203.20" fill="none" stroke="#c8102e" stroke-width="1.2" stroke-linejoin="round"/>
<rect x="208.60" y="210.60" width="4.60" height="4.60" fill="#c8102e"/>
<rect x="237.12" y="205.80" width="4.60" height="4.60" fill="#c8102e"/>
<rect x="265.64" y="207.20" width="4.60" height="4.60" fill="#c8102e"/>
<rect x="294.16" y="196.80" width="4.60" height="4.60" fill="#c8102e"/>
<rect x="322.68" y="200.90" width="4.60" height="4.60" fill="#c8102e"/>
<text x="294.61" y="189.91" font-size="7.4" font-weight="bold" text-anchor="middle" fill="#111" stroke="#111" stroke-width="0.3">*</text>
<text x="298.31" y="189.91" font-size="7.4" font-weight="bold" text-anchor="middle" fill="#111" stroke="#111" stroke-width="0.3">*</text>
<text x="323.13" y="194.21" font-size="7.4" font-weight="bold" text-anchor="middle" fill="#111" stroke="#111" stroke-width="0.3">*</text>
<text x="326.83" y="194.21" font-size="7.4" font-weight="bold" text-anchor="middle" fill="#111" stroke="#111" stroke-width="0.3">*</text>
<line x1="216.40" y1="161.30" x2="225.00" y2="161.30" stroke="#1a5391" stroke-width="1.2"/>
<circle cx="220.70" cy="161.30" r="2.10" fill="#1a5391"/>
<text transform="translate(227.10,164.14) scale(0.910,1)" x="0" y="0" font-size="7.9" fill="#111" stroke="#111" stroke-width="0.22">Hb AA</text>
<line x1="216.40" y1="169.80" x2="225.00" y2="169.80" stroke="#c8102e" stroke-width="1.2"/>
<rect x="218.40" y="167.50" width="4.60" height="4.60" fill="#c8102e"/>
<text transform="translate(227.10,172.64) scale(0.910,1)" x="0" y="0" font-size="7.9" fill="#111" stroke="#111" stroke-width="0.22">Hb SS control</text>
<line x1="216.40" y1="178.10" x2="225.00" y2="178.10" stroke="#3cb44b" stroke-width="1.2"/>
<path d="M220.70,175.60 L223.07,179.85 L218.32,179.85 Z" fill="#3cb44b"/>
<text transform="translate(227.10,180.94) scale(0.910,1)" x="0" y="0" font-size="7.9" fill="#111" stroke="#111" stroke-width="0.22">Hb SS treated</text>
<text transform="translate(190.40,206.00) rotate(-90) scale(0.6791,1)" x="0" y="0" font-size="9.0" text-anchor="middle" fill="#111" font-weight="bold">Urine nephrin (ng/24h)</text>
<text transform="translate(269.90,271.20) scale(0.6740,1)" x="0" y="0" font-size="9.0" text-anchor="middle" fill="#111" font-weight="bold">Age (weeks)</text>
<text x="356.20" y="157.20" font-size="11.2" font-weight="bold" fill="#000" stroke="#000" stroke-width="0.25">F</text>
<line x1="389.80" y1="166.80" x2="389.80" y2="246.10" stroke="#444" stroke-width="1.9"/>
<line x1="386.50" y1="245.60" x2="389.80" y2="245.60" stroke="#111" stroke-width="1.2"/>
<text transform="translate(383.20,248.47) scale(0.930,1)" x="0" y="0" font-size="8.2" text-anchor="end" fill="#111" stroke="#111" stroke-width="0.22">0</text>
<line x1="386.50" y1="226.87" x2="389.80" y2="226.87" stroke="#111" stroke-width="1.2"/>
<text transform="translate(383.20,229.74) scale(0.930,1)" x="0" y="0" font-size="8.2" text-anchor="end" fill="#111" stroke="#111" stroke-width="0.22">100</text>
<line x1="386.50" y1="208.14" x2="389.80" y2="208.14" stroke="#111" stroke-width="1.2"/>
<text transform="translate(383.20,211.01) scale(0.930,1)" x="0" y="0" font-size="8.2" text-anchor="end" fill="#111" stroke="#111" stroke-width="0.22">200</text>
<line x1="386.50" y1="189.41" x2="389.80" y2="189.41" stroke="#111" stroke-width="1.2"/>
<text transform="translate(383.20,192.28) scale(0.930,1)" x="0" y="0" font-size="8.2" text-anchor="end" fill="#111" stroke="#111" stroke-width="0.22">300</text>
<line x1="386.50" y1="170.68" x2="389.80" y2="170.68" stroke="#111" stroke-width="1.2"/>
<text transform="translate(383.20,173.55) scale(0.930,1)" x="0" y="0" font-size="8.2" text-anchor="end" fill="#111" stroke="#111" stroke-width="0.22">400</text>
<line x1="389.30" y1="245.60" x2="513.40" y2="245.60" stroke="#111" stroke-width="1.2"/>
<line x1="389.80" y1="245.60" x2="389.80" y2="248.40" stroke="#111" stroke-width="1.2"/>
<text x="389.80" y="258.25" font-size="7.3" text-anchor="middle" fill="#111" stroke="#111" stroke-width="0.22">12</text>
<line x1="418.33" y1="245.60" x2="418.33" y2="248.40" stroke="#111" stroke-width="1.2"/>
<text x="418.33" y="258.25" font-size="7.3" text-anchor="middle" fill="#111" stroke="#111" stroke-width="0.22">15</text>
<line x1="446.86" y1="245.60" x2="446.86" y2="248.40" stroke="#111" stroke-width="1.2"/>
<text x="446.86" y="258.25" font-size="7.3" text-anchor="middle" fill="#111" stroke="#111" stroke-width="0.22">18</text>
<line x1="475.39" y1="245.60" x2="475.39" y2="248.40" stroke="#111" stroke-width="1.2"/>
<text x="475.39" y="258.25" font-size="7.3" text-anchor="middle" fill="#111" stroke="#111" stroke-width="0.22">21</text>
<line x1="503.92" y1="245.60" x2="503.92" y2="248.40" stroke="#111" stroke-width="1.2"/>
<text x="503.92" y="258.25" font-size="7.3" text-anchor="middle" fill="#111" stroke="#111" stroke-width="0.22">24</text>
<line x1="389.80" y1="224.60" x2="389.80" y2="230.00" stroke="#1a1a1a" stroke-width="1.0"/>
<line x1="387.80" y1="224.60" x2="391.80" y2="224.60" stroke="#1a1a1a" stroke-width="1.0"/>
<line x1="387.80" y1="230.00" x2="391.80" y2="230.00" stroke="#1a1a1a" stroke-width="1.0"/>
<line x1="418.33" y1="221.80" x2="418.33" y2="227.50" stroke="#1a1a1a" stroke-width="1.0"/>
<line x1="416.33" y1="221.80" x2="420.33" y2="221.80" stroke="#1a1a1a" stroke-width="1.0"/>
<line x1="416.33" y1="227.50" x2="420.33" y2="227.50" stroke="#1a1a1a" stroke-width="1.0"/>
<line x1="446.86" y1="222.50" x2="446.86" y2="229.50" stroke="#1a1a1a" stroke-width="1.0"/>
<line x1="444.86" y1="222.50" x2="448.86" y2="222.50" stroke="#1a1a1a" stroke-width="1.0"/>
<line x1="444.86" y1="229.50" x2="448.86" y2="229.50" stroke="#1a1a1a" stroke-width="1.0"/>
<line x1="475.39" y1="222.70" x2="475.39" y2="227.50" stroke="#1a1a1a" stroke-width="1.0"/>
<line x1="473.39" y1="222.70" x2="477.39" y2="222.70" stroke="#1a1a1a" stroke-width="1.0"/>
<line x1="473.39" y1="227.50" x2="477.39" y2="227.50" stroke="#1a1a1a" stroke-width="1.0"/>
<line x1="503.92" y1="225.50" x2="503.92" y2="230.20" stroke="#1a1a1a" stroke-width="1.0"/>
<line x1="501.92" y1="225.50" x2="505.92" y2="225.50" stroke="#1a1a1a" stroke-width="1.0"/>
<line x1="501.92" y1="230.20" x2="505.92" y2="230.20" stroke="#1a1a1a" stroke-width="1.0"/>
<line x1="389.80" y1="183.60" x2="389.80" y2="200.20" stroke="#1a1a1a" stroke-width="1.0"/>
<line x1="387.80" y1="183.60" x2="391.80" y2="183.60" stroke="#1a1a1a" stroke-width="1.0"/>
<line x1="387.80" y1="200.20" x2="391.80" y2="200.20" stroke="#1a1a1a" stroke-width="1.0"/>
<line x1="418.33" y1="213.60" x2="418.33" y2="220.20" stroke="#1a1a1a" stroke-width="1.0"/>
<line x1="416.33" y1="213.60" x2="420.33" y2="213.60" stroke="#1a1a1a" stroke-width="1.0"/>
<line x1="416.33" y1="220.20" x2="420.33" y2="220.20" stroke="#1a1a1a" stroke-width="1.0"/>
<line x1="446.86" y1="211.10" x2="446.86" y2="218.00" stroke="#1a1a1a" stroke-width="1.0"/>
<line x1="444.86" y1="211.10" x2="448.86" y2="211.10" stroke="#1a1a1a" stroke-width="1.0"/>
<line x1="444.86" y1="218.00" x2="448.86" y2="218.00" stroke="#1a1a1a" stroke-width="1.0"/>
<line x1="475.39" y1="210.50" x2="475.39" y2="220.20" stroke="#1a1a1a" stroke-width="1.0"/>
<line x1="473.39" y1="210.50" x2="477.39" y2="210.50" stroke="#1a1a1a" stroke-width="1.0"/>
<line x1="473.39" y1="220.20" x2="477.39" y2="220.20" stroke="#1a1a1a" stroke-width="1.0"/>
<line x1="503.92" y1="211.10" x2="503.92" y2="218.00" stroke="#1a1a1a" stroke-width="1.0"/>
<line x1="501.92" y1="211.10" x2="505.92" y2="211.10" stroke="#1a1a1a" stroke-width="1.0"/>
<line x1="501.92" y1="218.00" x2="505.92" y2="218.00" stroke="#1a1a1a" stroke-width="1.0"/>
<line x1="389.80" y1="191.80" x2="389.80" y2="207.40" stroke="#1a1a1a" stroke-width="1.0"/>
<line x1="387.80" y1="191.80" x2="391.80" y2="191.80" stroke="#1a1a1a" stroke-width="1.0"/>
<line x1="387.80" y1="207.40" x2="391.80" y2="207.40" stroke="#1a1a1a" stroke-width="1.0"/>
<line x1="418.33" y1="189.50" x2="418.33" y2="203.20" stroke="#1a1a1a" stroke-width="1.0"/>
<line x1="416.33" y1="189.50" x2="420.33" y2="189.50" stroke="#1a1a1a" stroke-width="1.0"/>
<line x1="416.33" y1="203.20" x2="420.33" y2="203.20" stroke="#1a1a1a" stroke-width="1.0"/>
<line x1="446.86" y1="189.50" x2="446.86" y2="202.30" stroke="#1a1a1a" stroke-width="1.0"/>
<line x1="444.86" y1="189.50" x2="448.86" y2="189.50" stroke="#1a1a1a" stroke-width="1.0"/>
<line x1="444.86" y1="202.30" x2="448.86" y2="202.30" stroke="#1a1a1a" stroke-width="1.0"/>
<line x1="475.39" y1="188.60" x2="475.39" y2="203.20" stroke="#1a1a1a" stroke-width="1.0"/>
<line x1="473.39" y1="188.60" x2="477.39" y2="188.60" stroke="#1a1a1a" stroke-width="1.0"/>
<line x1="473.39" y1="203.20" x2="477.39" y2="203.20" stroke="#1a1a1a" stroke-width="1.0"/>
<line x1="503.92" y1="172.50" x2="503.92" y2="189.50" stroke="#1a1a1a" stroke-width="1.0"/>
<line x1="501.92" y1="172.50" x2="505.92" y2="172.50" stroke="#1a1a1a" stroke-width="1.0"/>
<line x1="501.92" y1="189.50" x2="505.92" y2="189.50" stroke="#1a1a1a" stroke-width="1.0"/>
<polyline points="389.80,227.10 418.33,224.80 446.86,226.10 475.39,225.20 503.92,227.70" fill="none" stroke="#1a5391" stroke-width="1.2" stroke-linejoin="round"/>
<circle cx="389.80" cy="227.10" r="2.10" fill="#1a5391"/>
<circle cx="418.33" cy="224.80" r="2.10" fill="#1a5391"/>
<circle cx="446.86" cy="226.10" r="2.10" fill="#1a5391"/>
<circle cx="475.39" cy="225.20" r="2.10" fill="#1a5391"/>
<circle cx="503.92" cy="227.70" r="2.10" fill="#1a5391"/>
<polyline points="389.80,191.90 418.33,217.00 446.86,214.50 475.39,215.00 503.92,214.50" fill="none" stroke="#3cb44b" stroke-width="1.2" stroke-linejoin="round"/>
<path d="M389.80,189.40 L392.18,193.65 L387.43,193.65 Z" fill="#3cb44b"/>
<path d="M418.33,214.50 L420.71,218.75 L415.96,218.75 Z" fill="#3cb44b"/>
<path d="M446.86,212.00 L449.24,216.25 L444.49,216.25 Z" fill="#3cb44b"/>
<path d="M475.39,212.50 L477.76,216.75 L473.01,216.75 Z" fill="#3cb44b"/>
<path d="M503.92,212.00 L506.30,216.25 L501.55,216.25 Z" fill="#3cb44b"/>
<polyline points="389.80,199.60 418.33,195.90 446.86,195.70 475.39,195.70 503.92,180.90" fill="none" stroke="#c8102e" stroke-width="1.2" stroke-linejoin="round"/>
<rect x="387.50" y="197.30" width="4.60" height="4.60" fill="#c8102e"/>
<rect x="416.03" y="193.60" width="4.60" height="4.60" fill="#c8102e"/>
<rect x="444.56" y="193.40" width="4.60" height="4.60" fill="#c8102e"/>
<rect x="473.09" y="193.40" width="4.60" height="4.60" fill="#c8102e"/>
<rect x="501.62" y="178.60" width="4.60" height="4.60" fill="#c8102e"/>
<text x="418.33" y="189.51" font-size="7.4" font-weight="bold" text-anchor="middle" fill="#111" stroke="#111" stroke-width="0.3">*</text>
<text x="446.86" y="189.51" font-size="7.4" font-weight="bold" text-anchor="middle" fill="#111" stroke="#111" stroke-width="0.3">*</text>
<text x="475.39" y="186.51" font-size="7.4" font-weight="bold" text-anchor="middle" fill="#111" stroke="#111" stroke-width="0.3">*</text>
<text x="502.07" y="170.41" font-size="7.4" font-weight="bold" text-anchor="middle" fill="#111" stroke="#111" stroke-width="0.3">*</text>
<text x="505.77" y="170.41" font-size="7.4" font-weight="bold" text-anchor="middle" fill="#111" stroke="#111" stroke-width="0.3">*</text>
<line x1="395.20" y1="160.80" x2="403.70" y2="160.80" stroke="#1a5391" stroke-width="1.2"/>
<circle cx="399.45" cy="160.80" r="2.10" fill="#1a5391"/>
<text transform="translate(405.60,163.64) scale(0.910,1)" x="0" y="0" font-size="7.9" fill="#111" stroke="#111" stroke-width="0.22">Hb AA</text>
<line x1="395.20" y1="169.40" x2="403.70" y2="169.40" stroke="#c8102e" stroke-width="1.2"/>
<rect x="397.15" y="167.10" width="4.60" height="4.60" fill="#c8102e"/>
<text transform="translate(405.60,172.24) scale(0.910,1)" x="0" y="0" font-size="7.9" fill="#111" stroke="#111" stroke-width="0.22">Hb SS control</text>
<line x1="395.20" y1="178.50" x2="403.70" y2="178.50" stroke="#3cb44b" stroke-width="1.2"/>
<path d="M399.45,176.00 L401.82,180.25 L397.07,180.25 Z" fill="#3cb44b"/>
<text transform="translate(405.60,181.34) scale(0.910,1)" x="0" y="0" font-size="7.9" fill="#111" stroke="#111" stroke-width="0.22">Hb SS treated</text>
<text transform="translate(363.90,205.90) rotate(-90) scale(0.6891,1)" x="0" y="0" font-size="9.0" text-anchor="middle" fill="#111" font-weight="bold">Urine KIM-1 (pg/24h)</text>
<text transform="translate(451.60,271.20) scale(0.6683,1)" x="0" y="0" font-size="9.0" text-anchor="middle" fill="#111" font-weight="bold">Age (weeks)</text>
<text x="6.60" y="297.70" font-size="11.2" font-weight="bold" fill="#000" stroke="#000" stroke-width="0.25">G</text>
<line x1="39.50" y1="308.00" x2="39.50" y2="388.00" stroke="#111" stroke-width="1.0"/>
<line x1="36.20" y1="387.50" x2="39.50" y2="387.50" stroke="#111" stroke-width="1.2"/>
<text transform="translate(33.30,390.37) scale(0.930,1)" x="0" y="0" font-size="8.2" text-anchor="end" fill="#111" stroke="#111" stroke-width="0.22">0</text>
<line x1="36.20" y1="349.85" x2="39.50" y2="349.85" stroke="#111" stroke-width="1.2"/>
<text transform="translate(33.30,352.72) scale(0.930,1)" x="0" y="0" font-size="8.2" text-anchor="end" fill="#111" stroke="#111" stroke-width="0.22">50</text>
<line x1="36.20" y1="312.20" x2="39.50" y2="312.20" stroke="#111" stroke-width="1.2"/>
<text transform="translate(33.30,315.07) scale(0.930,1)" x="0" y="0" font-size="8.2" text-anchor="end" fill="#111" stroke="#111" stroke-width="0.22">100</text>
<line x1="37.50" y1="383.74" x2="39.50" y2="383.74" stroke="#111" stroke-width="1.0"/>
<line x1="37.50" y1="379.97" x2="39.50" y2="379.97" stroke="#111" stroke-width="1.0"/>
<line x1="37.50" y1="376.20" x2="39.50" y2="376.20" stroke="#111" stroke-width="1.0"/>
<line x1="37.50" y1="372.44" x2="39.50" y2="372.44" stroke="#111" stroke-width="1.0"/>
<line x1="37.50" y1="368.68" x2="39.50" y2="368.68" stroke="#111" stroke-width="1.0"/>
<line x1="37.50" y1="364.91" x2="39.50" y2="364.91" stroke="#111" stroke-width="1.0"/>
<line x1="37.50" y1="361.14" x2="39.50" y2="361.14" stroke="#111" stroke-width="1.0"/>
<line x1="37.50" y1="357.38" x2="39.50" y2="357.38" stroke="#111" stroke-width="1.0"/>
<line x1="37.50" y1="353.62" x2="39.50" y2="353.62" stroke="#111" stroke-width="1.0"/>
<line x1="37.50" y1="346.08" x2="39.50" y2="346.08" stroke="#111" stroke-width="1.0"/>
<line x1="37.50" y1="342.32" x2="39.50" y2="342.32" stroke="#111" stroke-width="1.0"/>
<line x1="37.50" y1="338.56" x2="39.50" y2="338.56" stroke="#111" stroke-width="1.0"/>
<line x1="37.50" y1="334.79" x2="39.50" y2="334.79" stroke="#111" stroke-width="1.0"/>
<line x1="37.50" y1="331.02" x2="39.50" y2="331.02" stroke="#111" stroke-width="1.0"/>
<line x1="37.50" y1="327.26" x2="39.50" y2="327.26" stroke="#111" stroke-width="1.0"/>
<line x1="37.50" y1="323.50" x2="39.50" y2="323.50" stroke="#111" stroke-width="1.0"/>
<line x1="37.50" y1="319.73" x2="39.50" y2="319.73" stroke="#111" stroke-width="1.0"/>
<line x1="37.50" y1="315.97" x2="39.50" y2="315.97" stroke="#111" stroke-width="1.0"/>
<line x1="39.00" y1="387.50" x2="157.70" y2="387.50" stroke="#111" stroke-width="1.2"/>
<line x1="39.50" y1="387.50" x2="39.50" y2="390.30" stroke="#111" stroke-width="1.2"/>
<text x="39.50" y="399.56" font-size="7.3" text-anchor="middle" fill="#111" stroke="#111" stroke-width="0.22">12</text>
<line x1="67.98" y1="387.50" x2="67.98" y2="390.30" stroke="#111" stroke-width="1.2"/>
<text x="67.98" y="399.56" font-size="7.3" text-anchor="middle" fill="#111" stroke="#111" stroke-width="0.22">15</text>
<line x1="96.46" y1="387.50" x2="96.46" y2="390.30" stroke="#111" stroke-width="1.2"/>
<text x="96.46" y="399.56" font-size="7.3" text-anchor="middle" fill="#111" stroke="#111" stroke-width="0.22">18</text>
<line x1="124.94" y1="387.50" x2="124.94" y2="390.30" stroke="#111" stroke-width="1.2"/>
<text x="124.94" y="399.56" font-size="7.3" text-anchor="middle" fill="#111" stroke="#111" stroke-width="0.22">21</text>
<line x1="153.42" y1="387.50" x2="153.42" y2="390.30" stroke="#111" stroke-width="1.2"/>
<text x="153.42" y="399.56" font-size="7.3" text-anchor="middle" fill="#111" stroke="#111" stroke-width="0.22">24</text>
<line x1="39.50" y1="362.00" x2="39.50" y2="378.00" stroke="#1a1a1a" stroke-width="1.0"/>
<line x1="37.50" y1="362.00" x2="41.50" y2="362.00" stroke="#1a1a1a" stroke-width="1.0"/>
<line x1="37.50" y1="378.00" x2="41.50" y2="378.00" stroke="#1a1a1a" stroke-width="1.0"/>
<line x1="67.98" y1="369.50" x2="67.98" y2="375.70" stroke="#1a1a1a" stroke-width="1.0"/>
<line x1="65.98" y1="369.50" x2="69.98" y2="369.50" stroke="#1a1a1a" stroke-width="1.0"/>
<line x1="65.98" y1="375.70" x2="69.98" y2="375.70" stroke="#1a1a1a" stroke-width="1.0"/>
<line x1="96.46" y1="366.60" x2="96.46" y2="371.10" stroke="#1a1a1a" stroke-width="1.0"/>
<line x1="94.46" y1="366.60" x2="98.46" y2="366.60" stroke="#1a1a1a" stroke-width="1.0"/>
<line x1="94.46" y1="371.10" x2="98.46" y2="371.10" stroke="#1a1a1a" stroke-width="1.0"/>
<line x1="124.94" y1="359.80" x2="124.94" y2="366.60" stroke="#1a1a1a" stroke-width="1.0"/>
<line x1="122.94" y1="359.80" x2="126.94" y2="359.80" stroke="#1a1a1a" stroke-width="1.0"/>
<line x1="122.94" y1="366.60" x2="126.94" y2="366.60" stroke="#1a1a1a" stroke-width="1.0"/>
<line x1="153.42" y1="359.80" x2="153.42" y2="367.00" stroke="#1a1a1a" stroke-width="1.0"/>
<line x1="151.42" y1="359.80" x2="155.42" y2="359.80" stroke="#1a1a1a" stroke-width="1.0"/>
<line x1="151.42" y1="367.00" x2="155.42" y2="367.00" stroke="#1a1a1a" stroke-width="1.0"/>
<line x1="39.50" y1="349.00" x2="39.50" y2="362.00" stroke="#1a1a1a" stroke-width="1.0"/>
<line x1="37.50" y1="349.00" x2="41.50" y2="349.00" stroke="#1a1a1a" stroke-width="1.0"/>
<line x1="37.50" y1="362.00" x2="41.50" y2="362.00" stroke="#1a1a1a" stroke-width="1.0"/>
<line x1="67.98" y1="354.10" x2="67.98" y2="367.70" stroke="#1a1a1a" stroke-width="1.0"/>
<line x1="65.98" y1="354.10" x2="69.98" y2="354.10" stroke="#1a1a1a" stroke-width="1.0"/>
<line x1="65.98" y1="367.70" x2="69.98" y2="367.70" stroke="#1a1a1a" stroke-width="1.0"/>
<line x1="96.46" y1="353.40" x2="96.46" y2="367.30" stroke="#1a1a1a" stroke-width="1.0"/>
<line x1="94.46" y1="353.40" x2="98.46" y2="353.40" stroke="#1a1a1a" stroke-width="1.0"/>
<line x1="94.46" y1="367.30" x2="98.46" y2="367.30" stroke="#1a1a1a" stroke-width="1.0"/>
<line x1="124.94" y1="345.50" x2="124.94" y2="358.60" stroke="#1a1a1a" stroke-width="1.0"/>
<line x1="122.94" y1="345.50" x2="126.94" y2="345.50" stroke="#1a1a1a" stroke-width="1.0"/>
<line x1="122.94" y1="358.60" x2="126.94" y2="358.60" stroke="#1a1a1a" stroke-width="1.0"/>
<line x1="153.42" y1="354.50" x2="153.42" y2="365.50" stroke="#1a1a1a" stroke-width="1.0"/>
<line x1="151.42" y1="354.50" x2="155.42" y2="354.50" stroke="#1a1a1a" stroke-width="1.0"/>
<line x1="151.42" y1="365.50" x2="155.42" y2="365.50" stroke="#1a1a1a" stroke-width="1.0"/>
<line x1="39.50" y1="349.00" x2="39.50" y2="362.00" stroke="#1a1a1a" stroke-width="1.0"/>
<line x1="37.50" y1="349.00" x2="41.50" y2="349.00" stroke="#1a1a1a" stroke-width="1.0"/>
<line x1="37.50" y1="362.00" x2="41.50" y2="362.00" stroke="#1a1a1a" stroke-width="1.0"/>
<line x1="67.98" y1="336.40" x2="67.98" y2="356.40" stroke="#1a1a1a" stroke-width="1.0"/>
<line x1="65.98" y1="336.40" x2="69.98" y2="336.40" stroke="#1a1a1a" stroke-width="1.0"/>
<line x1="65.98" y1="356.40" x2="69.98" y2="356.40" stroke="#1a1a1a" stroke-width="1.0"/>
<line x1="96.46" y1="329.80" x2="96.46" y2="353.40" stroke="#1a1a1a" stroke-width="1.0"/>
<line x1="94.46" y1="329.80" x2="98.46" y2="329.80" stroke="#1a1a1a" stroke-width="1.0"/>
<line x1="94.46" y1="353.40" x2="98.46" y2="353.40" stroke="#1a1a1a" stroke-width="1.0"/>
<line x1="124.94" y1="325.20" x2="124.94" y2="345.50" stroke="#1a1a1a" stroke-width="1.0"/>
<line x1="122.94" y1="325.20" x2="126.94" y2="325.20" stroke="#1a1a1a" stroke-width="1.0"/>
<line x1="122.94" y1="345.50" x2="126.94" y2="345.50" stroke="#1a1a1a" stroke-width="1.0"/>
<line x1="153.42" y1="314.30" x2="153.42" y2="337.00" stroke="#1a1a1a" stroke-width="1.0"/>
<line x1="151.42" y1="314.30" x2="155.42" y2="314.30" stroke="#1a1a1a" stroke-width="1.0"/>
<line x1="151.42" y1="337.00" x2="155.42" y2="337.00" stroke="#1a1a1a" stroke-width="1.0"/>
<polyline points="39.50,370.30 67.98,372.70 96.46,369.10 124.94,362.70 153.42,362.70" fill="none" stroke="#1a5391" stroke-width="1.2" stroke-linejoin="round"/>
<circle cx="39.50" cy="370.30" r="2.10" fill="#1a5391"/>
<circle cx="67.98" cy="372.70" r="2.10" fill="#1a5391"/>
<circle cx="96.46" cy="369.10" r="2.10" fill="#1a5391"/>
<circle cx="124.94" cy="362.70" r="2.10" fill="#1a5391"/>
<circle cx="153.42" cy="362.70" r="2.10" fill="#1a5391"/>
<polyline points="39.50,354.90 67.98,360.50 96.46,359.10 124.94,353.00 153.42,359.80" fill="none" stroke="#3cb44b" stroke-width="1.2" stroke-linejoin="round"/>
<path d="M39.50,352.40 L41.88,356.65 L37.12,356.65 Z" fill="#3cb44b"/>
<path d="M67.98,358.00 L70.36,362.25 L65.61,362.25 Z" fill="#3cb44b"/>
<path d="M96.46,356.60 L98.84,360.85 L94.09,360.85 Z" fill="#3cb44b"/>
<path d="M124.94,350.50 L127.31,354.75 L122.56,354.75 Z" fill="#3cb44b"/>
<path d="M153.42,357.30 L155.80,361.55 L151.05,361.55 Z" fill="#3cb44b"/>
<polyline points="39.50,355.40 67.98,346.60 96.46,341.10 124.94,335.50 153.42,325.70" fill="none" stroke="#c8102e" stroke-width="1.2" stroke-linejoin="round"/>
<rect x="37.20" y="353.10" width="4.60" height="4.60" fill="#c8102e"/>
<rect x="65.68" y="344.30" width="4.60" height="4.60" fill="#c8102e"/>
<rect x="94.16" y="338.80" width="4.60" height="4.60" fill="#c8102e"/>
<rect x="122.64" y="333.20" width="4.60" height="4.60" fill="#c8102e"/>
<rect x="151.12" y="323.40" width="4.60" height="4.60" fill="#c8102e"/>
<text x="124.94" y="323.61" font-size="7.4" font-weight="bold" text-anchor="middle" fill="#111" stroke="#111" stroke-width="0.3">*</text>
<text x="151.57" y="312.21" font-size="7.4" font-weight="bold" text-anchor="middle" fill="#111" stroke="#111" stroke-width="0.3">*</text>
<text x="155.27" y="312.21" font-size="7.4" font-weight="bold" text-anchor="middle" fill="#111" stroke="#111" stroke-width="0.3">*</text>
<line x1="44.60" y1="302.40" x2="53.00" y2="302.40" stroke="#1a5391" stroke-width="1.2"/>
<circle cx="48.80" cy="302.40" r="2.10" fill="#1a5391"/>
<text transform="translate(56.00,305.24) scale(0.910,1)" x="0" y="0" font-size="7.9" fill="#111" stroke="#111" stroke-width="0.22">Hb AA</text>
<line x1="44.60" y1="311.20" x2="53.00" y2="311.20" stroke="#c8102e" stroke-width="1.2"/>
<rect x="46.50" y="308.90" width="4.60" height="4.60" fill="#c8102e"/>
<text transform="translate(56.00,314.04) scale(0.910,1)" x="0" y="0" font-size="7.9" fill="#111" stroke="#111" stroke-width="0.22">Hb SS control</text>
<line x1="44.60" y1="320.00" x2="53.00" y2="320.00" stroke="#3cb44b" stroke-width="1.2"/>
<path d="M48.80,317.50 L51.17,321.75 L46.42,321.75 Z" fill="#3cb44b"/>
<text transform="translate(56.00,322.84) scale(0.910,1)" x="0" y="0" font-size="7.9" fill="#111" stroke="#111" stroke-width="0.22">Hb SS treated</text>
<text transform="translate(13.90,347.60) rotate(-90) scale(0.6888,1)" x="0" y="0" font-size="9.0" text-anchor="middle" fill="#111" font-weight="bold">Albuminuria (μg/24h)</text>
<text transform="translate(98.60,412.20) scale(0.6740,1)" x="0" y="0" font-size="9.0" text-anchor="middle" fill="#111" font-weight="bold">Age (weeks)</text>
<text x="171.20" y="297.70" font-size="11.2" font-weight="bold" fill="#000" stroke="#000" stroke-width="0.25">H</text>
<line x1="210.90" y1="308.00" x2="210.90" y2="388.00" stroke="#444" stroke-width="1.9"/>
<line x1="207.60" y1="387.50" x2="210.90" y2="387.50" stroke="#111" stroke-width="1.2"/>
<text transform="translate(205.00,390.37) scale(0.930,1)" x="0" y="0" font-size="8.2" text-anchor="end" fill="#111" stroke="#111" stroke-width="0.22">0</text>
<line x1="207.60" y1="372.50" x2="210.90" y2="372.50" stroke="#111" stroke-width="1.2"/>
<text transform="translate(205.00,375.37) scale(0.930,1)" x="0" y="0" font-size="8.2" text-anchor="end" fill="#111" stroke="#111" stroke-width="0.22">1</text>
<line x1="207.60" y1="357.50" x2="210.90" y2="357.50" stroke="#111" stroke-width="1.2"/>
<text transform="translate(205.00,360.37) scale(0.930,1)" x="0" y="0" font-size="8.2" text-anchor="end" fill="#111" stroke="#111" stroke-width="0.22">2</text>
<line x1="207.60" y1="342.50" x2="210.90" y2="342.50" stroke="#111" stroke-width="1.2"/>
<text transform="translate(205.00,345.37) scale(0.930,1)" x="0" y="0" font-size="8.2" text-anchor="end" fill="#111" stroke="#111" stroke-width="0.22">3</text>
<line x1="207.60" y1="327.50" x2="210.90" y2="327.50" stroke="#111" stroke-width="1.2"/>
<text transform="translate(205.00,330.37) scale(0.930,1)" x="0" y="0" font-size="8.2" text-anchor="end" fill="#111" stroke="#111" stroke-width="0.22">4</text>
<line x1="207.60" y1="312.50" x2="210.90" y2="312.50" stroke="#111" stroke-width="1.2"/>
<text transform="translate(205.00,315.37) scale(0.930,1)" x="0" y="0" font-size="8.2" text-anchor="end" fill="#111" stroke="#111" stroke-width="0.22">5</text>
<line x1="210.40" y1="387.50" x2="329.10" y2="387.50" stroke="#111" stroke-width="1.2"/>
<line x1="210.90" y1="387.50" x2="210.90" y2="390.30" stroke="#111" stroke-width="1.2"/>
<text x="210.90" y="399.56" font-size="7.3" text-anchor="middle" fill="#111" stroke="#111" stroke-width="0.22">12</text>
<line x1="239.32" y1="387.50" x2="239.32" y2="390.30" stroke="#111" stroke-width="1.2"/>
<text x="239.32" y="399.56" font-size="7.3" text-anchor="middle" fill="#111" stroke="#111" stroke-width="0.22">15</text>
<line x1="267.74" y1="387.50" x2="267.74" y2="390.30" stroke="#111" stroke-width="1.2"/>
<text x="267.74" y="399.56" font-size="7.3" text-anchor="middle" fill="#111" stroke="#111" stroke-width="0.22">18</text>
<line x1="296.16" y1="387.50" x2="296.16" y2="390.30" stroke="#111" stroke-width="1.2"/>
<text x="296.16" y="399.56" font-size="7.3" text-anchor="middle" fill="#111" stroke="#111" stroke-width="0.22">21</text>
<line x1="324.58" y1="387.50" x2="324.58" y2="390.30" stroke="#111" stroke-width="1.2"/>
<text x="324.58" y="399.56" font-size="7.3" text-anchor="middle" fill="#111" stroke="#111" stroke-width="0.22">24</text>
<line x1="210.90" y1="360.00" x2="210.90" y2="370.00" stroke="#1a1a1a" stroke-width="1.0"/>
<line x1="208.90" y1="360.00" x2="212.90" y2="360.00" stroke="#1a1a1a" stroke-width="1.0"/>
<line x1="208.90" y1="370.00" x2="212.90" y2="370.00" stroke="#1a1a1a" stroke-width="1.0"/>
<line x1="239.32" y1="364.30" x2="239.32" y2="371.10" stroke="#1a1a1a" stroke-width="1.0"/>
<line x1="237.32" y1="364.30" x2="241.32" y2="364.30" stroke="#1a1a1a" stroke-width="1.0"/>
<line x1="237.32" y1="371.10" x2="241.32" y2="371.10" stroke="#1a1a1a" stroke-width="1.0"/>
<line x1="267.74" y1="363.90" x2="267.74" y2="370.70" stroke="#1a1a1a" stroke-width="1.0"/>
<line x1="265.74" y1="363.90" x2="269.74" y2="363.90" stroke="#1a1a1a" stroke-width="1.0"/>
<line x1="265.74" y1="370.70" x2="269.74" y2="370.70" stroke="#1a1a1a" stroke-width="1.0"/>
<line x1="296.16" y1="363.60" x2="296.16" y2="370.70" stroke="#1a1a1a" stroke-width="1.0"/>
<line x1="294.16" y1="363.60" x2="298.16" y2="363.60" stroke="#1a1a1a" stroke-width="1.0"/>
<line x1="294.16" y1="370.70" x2="298.16" y2="370.70" stroke="#1a1a1a" stroke-width="1.0"/>
<line x1="324.58" y1="359.10" x2="324.58" y2="365.90" stroke="#1a1a1a" stroke-width="1.0"/>
<line x1="322.58" y1="359.10" x2="326.58" y2="359.10" stroke="#1a1a1a" stroke-width="1.0"/>
<line x1="322.58" y1="365.90" x2="326.58" y2="365.90" stroke="#1a1a1a" stroke-width="1.0"/>
<line x1="210.90" y1="336.00" x2="210.90" y2="348.00" stroke="#1a1a1a" stroke-width="1.0"/>
<line x1="208.90" y1="336.00" x2="212.90" y2="336.00" stroke="#1a1a1a" stroke-width="1.0"/>
<line x1="208.90" y1="348.00" x2="212.90" y2="348.00" stroke="#1a1a1a" stroke-width="1.0"/>
<line x1="239.32" y1="351.40" x2="239.32" y2="357.60" stroke="#1a1a1a" stroke-width="1.0"/>
<line x1="237.32" y1="351.40" x2="241.32" y2="351.40" stroke="#1a1a1a" stroke-width="1.0"/>
<line x1="237.32" y1="357.60" x2="241.32" y2="357.60" stroke="#1a1a1a" stroke-width="1.0"/>
<line x1="267.74" y1="354.50" x2="267.74" y2="359.10" stroke="#1a1a1a" stroke-width="1.0"/>
<line x1="265.74" y1="354.50" x2="269.74" y2="354.50" stroke="#1a1a1a" stroke-width="1.0"/>
<line x1="265.74" y1="359.10" x2="269.74" y2="359.10" stroke="#1a1a1a" stroke-width="1.0"/>
<line x1="296.16" y1="353.00" x2="296.16" y2="359.10" stroke="#1a1a1a" stroke-width="1.0"/>
<line x1="294.16" y1="353.00" x2="298.16" y2="353.00" stroke="#1a1a1a" stroke-width="1.0"/>
<line x1="294.16" y1="359.10" x2="298.16" y2="359.10" stroke="#1a1a1a" stroke-width="1.0"/>
<line x1="324.58" y1="354.10" x2="324.58" y2="359.30" stroke="#1a1a1a" stroke-width="1.0"/>
<line x1="322.58" y1="354.10" x2="326.58" y2="354.10" stroke="#1a1a1a" stroke-width="1.0"/>
<line x1="322.58" y1="359.30" x2="326.58" y2="359.30" stroke="#1a1a1a" stroke-width="1.0"/>
<line x1="210.90" y1="338.50" x2="210.90" y2="349.50" stroke="#1a1a1a" stroke-width="1.0"/>
<line x1="208.90" y1="338.50" x2="212.90" y2="338.50" stroke="#1a1a1a" stroke-width="1.0"/>
<line x1="208.90" y1="349.50" x2="212.90" y2="349.50" stroke="#1a1a1a" stroke-width="1.0"/>
<line x1="239.32" y1="339.30" x2="239.32" y2="350.70" stroke="#1a1a1a" stroke-width="1.0"/>
<line x1="237.32" y1="339.30" x2="241.32" y2="339.30" stroke="#1a1a1a" stroke-width="1.0"/>
<line x1="237.32" y1="350.70" x2="241.32" y2="350.70" stroke="#1a1a1a" stroke-width="1.0"/>
<line x1="267.74" y1="339.30" x2="267.74" y2="349.50" stroke="#1a1a1a" stroke-width="1.0"/>
<line x1="265.74" y1="339.30" x2="269.74" y2="339.30" stroke="#1a1a1a" stroke-width="1.0"/>
<line x1="265.74" y1="349.50" x2="269.74" y2="349.50" stroke="#1a1a1a" stroke-width="1.0"/>
<line x1="296.16" y1="334.10" x2="296.16" y2="347.30" stroke="#1a1a1a" stroke-width="1.0"/>
<line x1="294.16" y1="334.10" x2="298.16" y2="334.10" stroke="#1a1a1a" stroke-width="1.0"/>
<line x1="294.16" y1="347.30" x2="298.16" y2="347.30" stroke="#1a1a1a" stroke-width="1.0"/>
<line x1="324.58" y1="324.50" x2="324.58" y2="338.90" stroke="#1a1a1a" stroke-width="1.0"/>
<line x1="322.58" y1="324.50" x2="326.58" y2="324.50" stroke="#1a1a1a" stroke-width="1.0"/>
<line x1="322.58" y1="338.90" x2="326.58" y2="338.90" stroke="#1a1a1a" stroke-width="1.0"/>
<polyline points="210.90,365.10 239.32,367.70 267.74,367.30 296.16,367.30 324.58,362.50" fill="none" stroke="#1a5391" stroke-width="1.2" stroke-linejoin="round"/>
<circle cx="210.90" cy="365.10" r="2.10" fill="#1a5391"/>
<circle cx="239.32" cy="367.70" r="2.10" fill="#1a5391"/>
<circle cx="267.74" cy="367.30" r="2.10" fill="#1a5391"/>
<circle cx="296.16" cy="367.30" r="2.10" fill="#1a5391"/>
<circle cx="324.58" cy="362.50" r="2.10" fill="#1a5391"/>
<polyline points="210.90,342.40 239.32,354.50 267.74,356.80 296.16,356.10 324.58,356.40" fill="none" stroke="#3cb44b" stroke-width="1.2" stroke-linejoin="round"/>
<path d="M210.90,339.90 L213.28,344.15 L208.53,344.15 Z" fill="#3cb44b"/>
<path d="M239.32,352.00 L241.69,356.25 L236.94,356.25 Z" fill="#3cb44b"/>
<path d="M267.74,354.30 L270.12,358.55 L265.37,358.55 Z" fill="#3cb44b"/>
<path d="M296.16,353.60 L298.54,357.85 L293.79,357.85 Z" fill="#3cb44b"/>
<path d="M324.58,353.90 L326.96,358.15 L322.21,358.15 Z" fill="#3cb44b"/>
<polyline points="210.90,344.00 239.32,345.00 267.74,344.10 296.16,340.90 324.58,332.00" fill="none" stroke="#c8102e" stroke-width="1.2" stroke-linejoin="round"/>
<rect x="208.60" y="341.70" width="4.60" height="4.60" fill="#c8102e"/>
<rect x="237.02" y="342.70" width="4.60" height="4.60" fill="#c8102e"/>
<rect x="265.44" y="341.80" width="4.60" height="4.60" fill="#c8102e"/>
<rect x="293.86" y="338.60" width="4.60" height="4.60" fill="#c8102e"/>
<rect x="322.28" y="329.70" width="4.60" height="4.60" fill="#c8102e"/>
<text x="239.32" y="336.71" font-size="7.4" font-weight="bold" text-anchor="middle" fill="#111" stroke="#111" stroke-width="0.3">*</text>
<text x="265.89" y="338.61" font-size="7.4" font-weight="bold" text-anchor="middle" fill="#111" stroke="#111" stroke-width="0.3">*</text>
<text x="269.59" y="338.61" font-size="7.4" font-weight="bold" text-anchor="middle" fill="#111" stroke="#111" stroke-width="0.3">*</text>
<text x="294.31" y="332.21" font-size="7.4" font-weight="bold" text-anchor="middle" fill="#111" stroke="#111" stroke-width="0.3">*</text>
<text x="298.01" y="332.21" font-size="7.4" font-weight="bold" text-anchor="middle" fill="#111" stroke="#111" stroke-width="0.3">*</text>
<text x="322.73" y="323.11" font-size="7.4" font-weight="bold" text-anchor="middle" fill="#111" stroke="#111" stroke-width="0.3">*</text>
<text x="326.43" y="323.11" font-size="7.4" font-weight="bold" text-anchor="middle" fill="#111" stroke="#111" stroke-width="0.3">*</text>
<line x1="216.20" y1="302.40" x2="225.40" y2="302.40" stroke="#1a5391" stroke-width="1.2"/>
<circle cx="220.80" cy="302.40" r="2.10" fill="#1a5391"/>
<text transform="translate(227.40,305.24) scale(0.910,1)" x="0" y="0" font-size="7.9" fill="#111" stroke="#111" stroke-width="0.22">Hb AA</text>
<line x1="216.20" y1="311.00" x2="225.40" y2="311.00" stroke="#c8102e" stroke-width="1.2"/>
<rect x="218.50" y="308.70" width="4.60" height="4.60" fill="#c8102e"/>
<text transform="translate(227.40,313.84) scale(0.910,1)" x="0" y="0" font-size="7.9" fill="#111" stroke="#111" stroke-width="0.22">Hb SS control</text>
<line x1="216.20" y1="319.30" x2="225.40" y2="319.30" stroke="#3cb44b" stroke-width="1.2"/>
<path d="M220.80,316.80 L223.18,321.05 L218.43,321.05 Z" fill="#3cb44b"/>
<text transform="translate(227.40,322.14) scale(0.910,1)" x="0" y="0" font-size="7.9" fill="#111" stroke="#111" stroke-width="0.22">Hb SS treated</text>
<text transform="translate(195.00,348.10) rotate(-90) scale(0.6385,1)" x="0" y="0" font-size="9.6" text-anchor="middle" fill="#111" font-weight="bold">Proteinuria (mg/24h)</text>
<text transform="translate(270.00,412.20) scale(0.6702,1)" x="0" y="0" font-size="9.0" text-anchor="middle" fill="#111" font-weight="bold">Age (weeks)</text>
<text x="356.20" y="297.70" font-size="11.2" font-weight="bold" fill="#000" stroke="#000" stroke-width="0.7">I</text>
<line x1="389.80" y1="308.50" x2="389.80" y2="388.00" stroke="#444" stroke-width="1.9"/>
<line x1="386.50" y1="387.50" x2="389.80" y2="387.50" stroke="#111" stroke-width="1.2"/>
<text transform="translate(383.80,390.37) scale(0.930,1)" x="0" y="0" font-size="8.2" text-anchor="end" fill="#111" stroke="#111" stroke-width="0.22">0.0</text>
<line x1="386.50" y1="372.42" x2="389.80" y2="372.42" stroke="#111" stroke-width="1.2"/>
<text transform="translate(383.80,375.29) scale(0.930,1)" x="0" y="0" font-size="8.2" text-anchor="end" fill="#111" stroke="#111" stroke-width="0.22">0.2</text>
<line x1="386.50" y1="357.34" x2="389.80" y2="357.34" stroke="#111" stroke-width="1.2"/>
<text transform="translate(383.80,360.21) scale(0.930,1)" x="0" y="0" font-size="8.2" text-anchor="end" fill="#111" stroke="#111" stroke-width="0.22">0.4</text>
<line x1="386.50" y1="342.26" x2="389.80" y2="342.26" stroke="#111" stroke-width="1.2"/>
<text transform="translate(383.80,345.13) scale(0.930,1)" x="0" y="0" font-size="8.2" text-anchor="end" fill="#111" stroke="#111" stroke-width="0.22">0.6</text>
<line x1="386.50" y1="327.18" x2="389.80" y2="327.18" stroke="#111" stroke-width="1.2"/>
<text transform="translate(383.80,330.05) scale(0.930,1)" x="0" y="0" font-size="8.2" text-anchor="end" fill="#111" stroke="#111" stroke-width="0.22">0.8</text>
<line x1="386.50" y1="312.10" x2="389.80" y2="312.10" stroke="#111" stroke-width="1.2"/>
<text transform="translate(383.80,314.97) scale(0.930,1)" x="0" y="0" font-size="8.2" text-anchor="end" fill="#111" stroke="#111" stroke-width="0.22">1.0</text>
<line x1="389.30" y1="387.50" x2="512.70" y2="387.50" stroke="#111" stroke-width="1.0"/>
<line x1="418.50" y1="387.50" x2="418.50" y2="390.00" stroke="#111" stroke-width="1.0"/>
<line x1="447.30" y1="387.50" x2="447.30" y2="390.00" stroke="#111" stroke-width="1.0"/>
<line x1="475.60" y1="387.50" x2="475.60" y2="390.00" stroke="#111" stroke-width="1.0"/>
<line x1="504.40" y1="387.50" x2="504.40" y2="390.00" stroke="#111" stroke-width="1.0"/>
<circle cx="409.7" cy="352.5" r="2.0" fill="#1a5391"/>
<circle cx="409.7" cy="356.7" r="2.0" fill="#1a5391"/>
<circle cx="409.7" cy="361.0" r="2.0" fill="#1a5391"/>
<circle cx="415.4" cy="346.5" r="2.0" fill="#1a5391"/>
<circle cx="415.4" cy="351.5" r="2.0" fill="#1a5391"/>
<circle cx="415.4" cy="356.9" r="2.0" fill="#1a5391"/>
<circle cx="421.3" cy="347.1" r="2.0" fill="#1a5391"/>
<circle cx="421.3" cy="353.5" r="2.0" fill="#1a5391"/>
<circle cx="421.3" cy="358.4" r="2.0" fill="#1a5391"/>
<circle cx="427.7" cy="356.9" r="2.0" fill="#1a5391"/>
<line x1="405.20" y1="355.30" x2="431.70" y2="355.30" stroke="#333" stroke-width="1.0"/>
<path d="M441.50,346.57 L443.28,343.39 L439.72,343.39 Z" fill="#4b1a6e"/>
<path d="M447.30,343.97 L449.08,340.79 L445.52,340.79 Z" fill="#4b1a6e"/>
<path d="M447.30,348.07 L449.08,344.89 L445.52,344.89 Z" fill="#4b1a6e"/>
<path d="M452.50,346.27 L454.28,343.09 L450.72,343.09 Z" fill="#4b1a6e"/>
<path d="M452.50,349.97 L454.28,346.79 L450.72,346.79 Z" fill="#4b1a6e"/>
<path d="M441.50,353.77 L443.28,350.59 L439.72,350.59 Z" fill="#4b1a6e"/>
<path d="M447.30,353.77 L449.08,350.59 L445.52,350.59 Z" fill="#4b1a6e"/>
<path d="M452.50,353.77 L454.28,350.59 L450.72,350.59 Z" fill="#4b1a6e"/>
<path d="M447.30,364.17 L449.08,360.99 L445.52,360.99 Z" fill="#4b1a6e"/>
<line x1="437.20" y1="349.30" x2="457.10" y2="349.30" stroke="#333" stroke-width="1.0"/>
<path d="M475.80,335.48 L477.82,339.09 L473.78,339.09 Z" fill="#3cb44b"/>
<path d="M472.70,339.27 L474.72,342.89 L470.68,342.89 Z" fill="#3cb44b"/>
<path d="M478.40,339.68 L480.42,343.29 L476.38,343.29 Z" fill="#3cb44b"/>
<path d="M472.70,342.07 L474.72,345.69 L470.68,345.69 Z" fill="#3cb44b"/>
<path d="M478.40,343.48 L480.42,347.09 L476.38,347.09 Z" fill="#3cb44b"/>
<path d="M472.70,345.57 L474.72,349.19 L470.68,349.19 Z" fill="#3cb44b"/>
<path d="M472.70,350.38 L474.72,353.99 L470.68,353.99 Z" fill="#3cb44b"/>
<path d="M478.40,350.07 L480.42,353.69 L476.38,353.69 Z" fill="#3cb44b"/>
<path d="M472.70,355.98 L474.72,359.59 L470.68,359.59 Z" fill="#3cb44b"/>
<path d="M478.40,355.27 L480.42,358.89 L476.38,358.89 Z" fill="#3cb44b"/>
<line x1="462.90" y1="345.40" x2="488.10" y2="345.40" stroke="#333" stroke-width="1.0"/>
<rect x="502.05" y="318.55" width="3.90" height="3.90" fill="#c8102e"/>
<rect x="499.05" y="323.35" width="3.90" height="3.90" fill="#c8102e"/>
<rect x="505.05" y="324.05" width="3.90" height="3.90" fill="#c8102e"/>
<rect x="499.05" y="328.15" width="3.90" height="3.90" fill="#c8102e"/>
<rect x="505.05" y="328.85" width="3.90" height="3.90" fill="#c8102e"/>
<rect x="502.05" y="333.15" width="3.90" height="3.90" fill="#c8102e"/>
<rect x="502.05" y="338.95" width="3.90" height="3.90" fill="#c8102e"/>
<rect x="502.05" y="345.45" width="3.90" height="3.90" fill="#c8102e"/>
<rect x="499.05" y="349.95" width="3.90" height="3.90" fill="#c8102e"/>
<rect x="505.05" y="349.95" width="3.90" height="3.90" fill="#c8102e"/>
<line x1="495.30" y1="332.10" x2="513.10" y2="332.10" stroke="#333" stroke-width="1.0"/>
<path d="M475.3,316.3 L475.3,312.7 Q475.3,311.7 476.3,311.7 L503.2,311.7 Q504.2,311.7 504.2,312.7 L504.2,316.3" fill="none" stroke="#333" stroke-width="1"/>
<text x="488.15" y="309.31" font-size="7.4" font-weight="bold" text-anchor="middle" fill="#111" stroke="#111" stroke-width="0.3">*</text>
<text x="491.85" y="309.31" font-size="7.4" font-weight="bold" text-anchor="middle" fill="#111" stroke="#111" stroke-width="0.3">*</text>
<text transform="translate(367.20,347.90) rotate(-90) scale(0.6898,1)" x="0" y="0" font-size="9.0" text-anchor="middle" fill="#111" font-weight="bold">Serum cystatin C (μg/mL)</text>
<text transform="translate(420.50,396.00) rotate(-45)" x="0" y="0" font-size="7.6" text-anchor="end" fill="#111" stroke="#111" stroke-width="0.22">Hb AA: 24 weeks</text>
<text transform="translate(449.30,396.00) rotate(-45)" x="0" y="0" font-size="7.6" text-anchor="end" fill="#111" stroke="#111" stroke-width="0.22">Hb SS: 12 weeks</text>
<text transform="translate(477.60,396.00) rotate(-45)" x="0" y="0" font-size="7.6" text-anchor="end" fill="#111" stroke="#111" stroke-width="0.22">Hb SS: 24 weeks treated</text>
<text transform="translate(506.40,396.00) rotate(-45)" x="0" y="0" font-size="7.6" text-anchor="end" fill="#111" stroke="#111" stroke-width="0.22">Hb SS: 24 weeks control</text>
<rect x="0" y="0" width="520" height="1" fill="#000"/>
<rect x="0" y="0" width="1.2" height="462" fill="#000"/>
<rect x="518.8" y="0" width="1.2" height="462" fill="#000"/>
<rect x="0" y="460.9" width="520" height="1.1" fill="#000"/>
</svg></body></html>
